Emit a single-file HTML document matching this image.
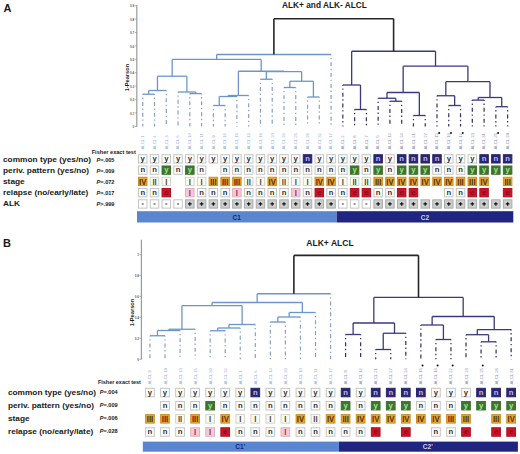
<!DOCTYPE html>
<html><head><meta charset="utf-8"><style>
html,body{margin:0;padding:0;background:#fff;}
svg{display:block;font-family:"Liberation Sans", sans-serif;}
</style></head><body>
<svg width="520" height="454" viewBox="0 0 520 454">
<rect width="520" height="454" fill="#fff"/>
<text x="3.50" y="12.30" font-size="11" font-weight="bold" font-style="normal" fill="#1a1a1a" text-anchor="start" >A</text>
<text x="282.00" y="7.50" font-size="8.3" font-weight="bold" font-style="normal" fill="#1a1a1a" text-anchor="start" >ALK+ and ALK- ALCL</text>
<line x1="136.8" y1="5" x2="136.8" y2="127" stroke="#9a9a9a" stroke-width="1.2"/>
<line x1="134.80" y1="5.70" x2="136.80" y2="5.70" stroke="#9a9a9a" stroke-width="0.8"/>
<text x="134.20" y="7.30" font-size="3.0" font-weight="bold" font-style="normal" fill="#555" text-anchor="end" >0.9</text>
<line x1="134.80" y1="19.10" x2="136.80" y2="19.10" stroke="#9a9a9a" stroke-width="0.8"/>
<text x="134.20" y="20.70" font-size="3.0" font-weight="bold" font-style="normal" fill="#555" text-anchor="end" >0.8</text>
<line x1="134.80" y1="32.50" x2="136.80" y2="32.50" stroke="#9a9a9a" stroke-width="0.8"/>
<text x="134.20" y="34.10" font-size="3.0" font-weight="bold" font-style="normal" fill="#555" text-anchor="end" >0.7</text>
<line x1="134.80" y1="45.90" x2="136.80" y2="45.90" stroke="#9a9a9a" stroke-width="0.8"/>
<text x="134.20" y="47.50" font-size="3.0" font-weight="bold" font-style="normal" fill="#555" text-anchor="end" >0.6</text>
<line x1="134.80" y1="59.30" x2="136.80" y2="59.30" stroke="#9a9a9a" stroke-width="0.8"/>
<text x="134.20" y="60.90" font-size="3.0" font-weight="bold" font-style="normal" fill="#555" text-anchor="end" >0.5</text>
<line x1="134.80" y1="72.70" x2="136.80" y2="72.70" stroke="#9a9a9a" stroke-width="0.8"/>
<text x="134.20" y="74.30" font-size="3.0" font-weight="bold" font-style="normal" fill="#555" text-anchor="end" >0.4</text>
<line x1="134.80" y1="86.10" x2="136.80" y2="86.10" stroke="#9a9a9a" stroke-width="0.8"/>
<text x="134.20" y="87.70" font-size="3.0" font-weight="bold" font-style="normal" fill="#555" text-anchor="end" >0.3</text>
<line x1="134.80" y1="99.50" x2="136.80" y2="99.50" stroke="#9a9a9a" stroke-width="0.8"/>
<text x="134.20" y="101.10" font-size="3.0" font-weight="bold" font-style="normal" fill="#555" text-anchor="end" >0.2</text>
<line x1="134.80" y1="112.90" x2="136.80" y2="112.90" stroke="#9a9a9a" stroke-width="0.8"/>
<text x="134.20" y="114.50" font-size="3.0" font-weight="bold" font-style="normal" fill="#555" text-anchor="end" >0.1</text>
<line x1="134.80" y1="126.30" x2="136.80" y2="126.30" stroke="#9a9a9a" stroke-width="0.8"/>
<text x="134.20" y="127.90" font-size="3.0" font-weight="bold" font-style="normal" fill="#555" text-anchor="end" >0</text>
<text x="0.00" y="0.00" font-size="5.7" font-weight="bold" font-style="normal" fill="#1a1a1a" text-anchor="middle" transform="translate(129.3,77.6) rotate(-90)">1-Pearson</text>
<line x1="142.75" y1="94.20" x2="154.52" y2="94.20" stroke="#6a96cd" stroke-width="1.3"/>
<line x1="148.63" y1="90.50" x2="166.29" y2="90.50" stroke="#6a96cd" stroke-width="1.3"/>
<line x1="148.63" y1="90.50" x2="148.63" y2="94.20" stroke="#6a96cd" stroke-width="1.3"/>
<line x1="189.83" y1="93.60" x2="201.60" y2="93.60" stroke="#6a96cd" stroke-width="1.3"/>
<line x1="178.06" y1="92.00" x2="195.71" y2="92.00" stroke="#6a96cd" stroke-width="1.3"/>
<line x1="195.71" y1="92.00" x2="195.71" y2="93.60" stroke="#6a96cd" stroke-width="1.3"/>
<line x1="157.46" y1="76.20" x2="186.89" y2="76.20" stroke="#6a96cd" stroke-width="1.3"/>
<line x1="157.46" y1="76.20" x2="157.46" y2="90.50" stroke="#6a96cd" stroke-width="1.3"/>
<line x1="186.89" y1="76.20" x2="186.89" y2="92.00" stroke="#6a96cd" stroke-width="1.3"/>
<line x1="213.37" y1="105.50" x2="225.14" y2="105.50" stroke="#6a96cd" stroke-width="1.3"/>
<line x1="219.25" y1="96.50" x2="236.91" y2="96.50" stroke="#6a96cd" stroke-width="1.3"/>
<line x1="219.25" y1="96.50" x2="219.25" y2="105.50" stroke="#6a96cd" stroke-width="1.3"/>
<line x1="228.08" y1="95.50" x2="248.68" y2="95.50" stroke="#6a96cd" stroke-width="1.3"/>
<line x1="228.08" y1="95.50" x2="228.08" y2="96.50" stroke="#6a96cd" stroke-width="1.3"/>
<line x1="260.45" y1="79.25" x2="272.22" y2="79.25" stroke="#6a96cd" stroke-width="1.3"/>
<line x1="283.99" y1="87.50" x2="295.76" y2="87.50" stroke="#6a96cd" stroke-width="1.3"/>
<line x1="307.53" y1="97.00" x2="319.30" y2="97.00" stroke="#6a96cd" stroke-width="1.3"/>
<line x1="289.88" y1="81.25" x2="313.41" y2="81.25" stroke="#6a96cd" stroke-width="1.3"/>
<line x1="289.88" y1="81.25" x2="289.88" y2="87.50" stroke="#6a96cd" stroke-width="1.3"/>
<line x1="313.41" y1="81.25" x2="313.41" y2="97.00" stroke="#6a96cd" stroke-width="1.3"/>
<line x1="266.34" y1="71.60" x2="301.64" y2="71.60" stroke="#6a96cd" stroke-width="1.3"/>
<line x1="266.34" y1="71.60" x2="266.34" y2="79.25" stroke="#6a96cd" stroke-width="1.3"/>
<line x1="301.64" y1="71.60" x2="301.64" y2="81.25" stroke="#6a96cd" stroke-width="1.3"/>
<line x1="238.38" y1="71.25" x2="283.99" y2="71.25" stroke="#6a96cd" stroke-width="1.3"/>
<line x1="238.38" y1="71.25" x2="238.38" y2="95.50" stroke="#6a96cd" stroke-width="1.3"/>
<line x1="283.99" y1="71.25" x2="283.99" y2="71.60" stroke="#6a96cd" stroke-width="1.3"/>
<line x1="172.17" y1="59.40" x2="261.19" y2="59.40" stroke="#6a96cd" stroke-width="1.3"/>
<line x1="172.17" y1="59.40" x2="172.17" y2="76.20" stroke="#6a96cd" stroke-width="1.3"/>
<line x1="261.19" y1="59.40" x2="261.19" y2="71.25" stroke="#6a96cd" stroke-width="1.3"/>
<line x1="216.68" y1="54.50" x2="331.07" y2="54.50" stroke="#6a96cd" stroke-width="1.3"/>
<line x1="216.68" y1="54.50" x2="216.68" y2="59.40" stroke="#6a96cd" stroke-width="1.3"/>
<line x1="354.61" y1="109.50" x2="366.38" y2="109.50" stroke="#3a397e" stroke-width="1.3"/>
<line x1="342.84" y1="85.00" x2="360.50" y2="85.00" stroke="#3a397e" stroke-width="1.3"/>
<line x1="360.50" y1="85.00" x2="360.50" y2="109.50" stroke="#3a397e" stroke-width="1.3"/>
<line x1="389.92" y1="101.25" x2="401.69" y2="101.25" stroke="#3a397e" stroke-width="1.3"/>
<line x1="378.15" y1="98.25" x2="395.80" y2="98.25" stroke="#3a397e" stroke-width="1.3"/>
<line x1="395.80" y1="98.25" x2="395.80" y2="101.25" stroke="#3a397e" stroke-width="1.3"/>
<line x1="413.46" y1="115.50" x2="425.23" y2="115.50" stroke="#3a397e" stroke-width="1.3"/>
<line x1="386.98" y1="92.50" x2="419.35" y2="92.50" stroke="#3a397e" stroke-width="1.3"/>
<line x1="386.98" y1="92.50" x2="386.98" y2="98.25" stroke="#3a397e" stroke-width="1.3"/>
<line x1="419.35" y1="92.50" x2="419.35" y2="115.50" stroke="#3a397e" stroke-width="1.3"/>
<line x1="448.77" y1="105.50" x2="460.54" y2="105.50" stroke="#3a397e" stroke-width="1.3"/>
<line x1="437.00" y1="95.75" x2="454.65" y2="95.75" stroke="#3a397e" stroke-width="1.3"/>
<line x1="454.65" y1="95.75" x2="454.65" y2="105.50" stroke="#3a397e" stroke-width="1.3"/>
<line x1="472.31" y1="100.10" x2="484.08" y2="100.10" stroke="#3a397e" stroke-width="1.3"/>
<line x1="495.85" y1="106.70" x2="507.62" y2="106.70" stroke="#3a397e" stroke-width="1.3"/>
<line x1="478.19" y1="97.50" x2="501.74" y2="97.50" stroke="#3a397e" stroke-width="1.3"/>
<line x1="478.19" y1="97.50" x2="478.19" y2="100.10" stroke="#3a397e" stroke-width="1.3"/>
<line x1="501.74" y1="97.50" x2="501.74" y2="106.70" stroke="#3a397e" stroke-width="1.3"/>
<line x1="445.83" y1="81.70" x2="489.97" y2="81.70" stroke="#3a397e" stroke-width="1.3"/>
<line x1="445.83" y1="81.70" x2="445.83" y2="95.75" stroke="#3a397e" stroke-width="1.3"/>
<line x1="489.97" y1="81.70" x2="489.97" y2="97.50" stroke="#3a397e" stroke-width="1.3"/>
<line x1="403.16" y1="66.20" x2="467.90" y2="66.20" stroke="#3a397e" stroke-width="1.3"/>
<line x1="403.16" y1="66.20" x2="403.16" y2="92.50" stroke="#3a397e" stroke-width="1.3"/>
<line x1="467.90" y1="66.20" x2="467.90" y2="81.70" stroke="#3a397e" stroke-width="1.3"/>
<line x1="351.67" y1="51.25" x2="435.53" y2="51.25" stroke="#3a397e" stroke-width="1.3"/>
<line x1="351.67" y1="51.25" x2="351.67" y2="85.00" stroke="#3a397e" stroke-width="1.3"/>
<line x1="435.53" y1="51.25" x2="435.53" y2="66.20" stroke="#3a397e" stroke-width="1.3"/>
<line x1="273.88" y1="18.70" x2="393.60" y2="18.70" stroke="#262626" stroke-width="1.6"/>
<line x1="273.88" y1="18.70" x2="273.88" y2="54.50" stroke="#262626" stroke-width="1.6"/>
<line x1="393.60" y1="18.70" x2="393.60" y2="51.25" stroke="#262626" stroke-width="1.6"/>
<line x1="142.75" y1="94.20" x2="142.75" y2="126.50" stroke="#869fca" stroke-width="1.2" stroke-dasharray="4,2.6,1.4,2.9" stroke-dashoffset="3.2"/>
<line x1="154.52" y1="94.20" x2="154.52" y2="126.50" stroke="#869fca" stroke-width="1.2" stroke-dasharray="4,2.6,1.4,2.9" stroke-dashoffset="3.2"/>
<line x1="166.29" y1="90.50" x2="166.29" y2="126.50" stroke="#869fca" stroke-width="1.2" stroke-dasharray="4,2.6,1.4,2.9" stroke-dashoffset="3.2"/>
<line x1="178.06" y1="92.00" x2="178.06" y2="126.50" stroke="#869fca" stroke-width="1.2" stroke-dasharray="4,2.6,1.4,2.9" stroke-dashoffset="3.2"/>
<line x1="189.83" y1="93.60" x2="189.83" y2="126.50" stroke="#869fca" stroke-width="1.2" stroke-dasharray="4,2.6,1.4,2.9" stroke-dashoffset="3.2"/>
<line x1="201.60" y1="93.60" x2="201.60" y2="126.50" stroke="#869fca" stroke-width="1.2" stroke-dasharray="4,2.6,1.4,2.9" stroke-dashoffset="3.2"/>
<line x1="213.37" y1="105.50" x2="213.37" y2="126.50" stroke="#869fca" stroke-width="1.2" stroke-dasharray="4,2.6,1.4,2.9" stroke-dashoffset="3.2"/>
<line x1="225.14" y1="105.50" x2="225.14" y2="126.50" stroke="#869fca" stroke-width="1.2" stroke-dasharray="4,2.6,1.4,2.9" stroke-dashoffset="3.2"/>
<line x1="236.91" y1="96.50" x2="236.91" y2="126.50" stroke="#869fca" stroke-width="1.2" stroke-dasharray="4,2.6,1.4,2.9" stroke-dashoffset="3.2"/>
<line x1="248.68" y1="95.50" x2="248.68" y2="126.50" stroke="#869fca" stroke-width="1.2" stroke-dasharray="4,2.6,1.4,2.9" stroke-dashoffset="3.2"/>
<line x1="260.45" y1="79.25" x2="260.45" y2="126.50" stroke="#869fca" stroke-width="1.2" stroke-dasharray="4,2.6,1.4,2.9" stroke-dashoffset="3.2"/>
<line x1="272.22" y1="79.25" x2="272.22" y2="126.50" stroke="#869fca" stroke-width="1.2" stroke-dasharray="4,2.6,1.4,2.9" stroke-dashoffset="3.2"/>
<line x1="283.99" y1="87.50" x2="283.99" y2="126.50" stroke="#869fca" stroke-width="1.2" stroke-dasharray="4,2.6,1.4,2.9" stroke-dashoffset="3.2"/>
<line x1="295.76" y1="87.50" x2="295.76" y2="126.50" stroke="#869fca" stroke-width="1.2" stroke-dasharray="4,2.6,1.4,2.9" stroke-dashoffset="3.2"/>
<line x1="307.53" y1="97.00" x2="307.53" y2="126.50" stroke="#869fca" stroke-width="1.2" stroke-dasharray="4,2.6,1.4,2.9" stroke-dashoffset="3.2"/>
<line x1="319.30" y1="97.00" x2="319.30" y2="126.50" stroke="#869fca" stroke-width="1.2" stroke-dasharray="4,2.6,1.4,2.9" stroke-dashoffset="3.2"/>
<line x1="331.07" y1="54.50" x2="331.07" y2="126.50" stroke="#869fca" stroke-width="1.2" stroke-dasharray="4,2.6,1.4,2.9" stroke-dashoffset="3.2"/>
<line x1="342.84" y1="85.00" x2="342.84" y2="126.50" stroke="#2f2f66" stroke-width="1.2" stroke-dasharray="4,2.6,1.4,2.9" stroke-dashoffset="3.2"/>
<line x1="354.61" y1="109.50" x2="354.61" y2="126.50" stroke="#2f2f66" stroke-width="1.2" stroke-dasharray="4,2.6,1.4,2.9" stroke-dashoffset="3.2"/>
<line x1="366.38" y1="109.50" x2="366.38" y2="126.50" stroke="#2f2f66" stroke-width="1.2" stroke-dasharray="4,2.6,1.4,2.9" stroke-dashoffset="3.2"/>
<line x1="378.15" y1="98.25" x2="378.15" y2="126.50" stroke="#2f2f66" stroke-width="1.2" stroke-dasharray="4,2.6,1.4,2.9" stroke-dashoffset="3.2"/>
<line x1="389.92" y1="101.25" x2="389.92" y2="126.50" stroke="#2f2f66" stroke-width="1.2" stroke-dasharray="4,2.6,1.4,2.9" stroke-dashoffset="3.2"/>
<line x1="401.69" y1="101.25" x2="401.69" y2="126.50" stroke="#2f2f66" stroke-width="1.2" stroke-dasharray="4,2.6,1.4,2.9" stroke-dashoffset="3.2"/>
<line x1="413.46" y1="115.50" x2="413.46" y2="126.50" stroke="#2f2f66" stroke-width="1.2" stroke-dasharray="4,2.6,1.4,2.9" stroke-dashoffset="3.2"/>
<line x1="425.23" y1="115.50" x2="425.23" y2="126.50" stroke="#2f2f66" stroke-width="1.2" stroke-dasharray="4,2.6,1.4,2.9" stroke-dashoffset="3.2"/>
<line x1="437.00" y1="95.75" x2="437.00" y2="126.50" stroke="#2f2f66" stroke-width="1.2" stroke-dasharray="4,2.6,1.4,2.9" stroke-dashoffset="3.2"/>
<line x1="448.77" y1="105.50" x2="448.77" y2="126.50" stroke="#2f2f66" stroke-width="1.2" stroke-dasharray="4,2.6,1.4,2.9" stroke-dashoffset="3.2"/>
<line x1="460.54" y1="105.50" x2="460.54" y2="126.50" stroke="#2f2f66" stroke-width="1.2" stroke-dasharray="4,2.6,1.4,2.9" stroke-dashoffset="3.2"/>
<line x1="472.31" y1="100.10" x2="472.31" y2="126.50" stroke="#2f2f66" stroke-width="1.2" stroke-dasharray="4,2.6,1.4,2.9" stroke-dashoffset="3.2"/>
<line x1="484.08" y1="100.10" x2="484.08" y2="126.50" stroke="#2f2f66" stroke-width="1.2" stroke-dasharray="4,2.6,1.4,2.9" stroke-dashoffset="3.2"/>
<line x1="495.85" y1="106.70" x2="495.85" y2="126.50" stroke="#2f2f66" stroke-width="1.2" stroke-dasharray="4,2.6,1.4,2.9" stroke-dashoffset="3.2"/>
<line x1="507.62" y1="106.70" x2="507.62" y2="126.50" stroke="#2f2f66" stroke-width="1.2" stroke-dasharray="4,2.6,1.4,2.9" stroke-dashoffset="3.2"/>
<circle cx="439.20" cy="133" r="1" fill="#111"/>
<circle cx="450.97" cy="133" r="1" fill="#111"/>
<circle cx="462.74" cy="133" r="1" fill="#111"/>
<circle cx="498.05" cy="133" r="1" fill="#111"/>
<text transform="translate(144.05,149.6) rotate(-90)" font-size="4.3" fill="#8fb0dd">ALCL 1</text>
<text transform="translate(155.82,149.6) rotate(-90)" font-size="4.3" fill="#8fb0dd">ALCL 4</text>
<text transform="translate(167.59,149.6) rotate(-90)" font-size="4.3" fill="#8fb0dd">ALCL 3</text>
<text transform="translate(179.36,149.6) rotate(-90)" font-size="4.3" fill="#8fb0dd">ALCL 6</text>
<text transform="translate(191.13,149.6) rotate(-90)" font-size="4.3" fill="#8fb0dd">ALCL 10</text>
<text transform="translate(202.90,149.6) rotate(-90)" font-size="4.3" fill="#8fb0dd">ALCL 11</text>
<text transform="translate(214.67,149.6) rotate(-90)" font-size="4.3" fill="#8fb0dd">ALCL 9</text>
<text transform="translate(226.44,149.6) rotate(-90)" font-size="4.3" fill="#8fb0dd">ALCL 16</text>
<text transform="translate(238.21,149.6) rotate(-90)" font-size="4.3" fill="#8fb0dd">ALCL 15</text>
<text transform="translate(249.98,149.6) rotate(-90)" font-size="4.3" fill="#8fb0dd">ALCL 13</text>
<text transform="translate(261.75,149.6) rotate(-90)" font-size="4.3" fill="#8fb0dd">ALCL 18</text>
<text transform="translate(273.52,149.6) rotate(-90)" font-size="4.3" fill="#8fb0dd">ALCL 20</text>
<text transform="translate(285.29,149.6) rotate(-90)" font-size="4.3" fill="#8fb0dd">ALCL 26</text>
<text transform="translate(297.06,149.6) rotate(-90)" font-size="4.3" fill="#8fb0dd">ALCL 25</text>
<text transform="translate(308.83,149.6) rotate(-90)" font-size="4.3" fill="#8fb0dd">ALCL 28</text>
<text transform="translate(320.60,149.6) rotate(-90)" font-size="4.3" fill="#8fb0dd">ALCL 32</text>
<text transform="translate(332.37,149.6) rotate(-90)" font-size="4.3" fill="#8fb0dd">ALCL 17</text>
<text transform="translate(344.14,149.6) rotate(-90)" font-size="4.3" fill="#8a8ab8">ALCL 2</text>
<text transform="translate(355.91,149.6) rotate(-90)" font-size="4.3" fill="#8a8ab8">ALCL 8</text>
<text transform="translate(367.68,149.6) rotate(-90)" font-size="4.3" fill="#8a8ab8">ALCL 7</text>
<text transform="translate(379.45,149.6) rotate(-90)" font-size="4.3" fill="#8a8ab8">ALCL 5</text>
<text transform="translate(391.22,149.6) rotate(-90)" font-size="4.3" fill="#8a8ab8">ALCL 12</text>
<text transform="translate(402.99,149.6) rotate(-90)" font-size="4.3" fill="#8a8ab8">ALCL 24</text>
<text transform="translate(414.76,149.6) rotate(-90)" font-size="4.3" fill="#8a8ab8">ALCL 21</text>
<text transform="translate(426.53,149.6) rotate(-90)" font-size="4.3" fill="#8a8ab8">ALCL 27</text>
<text transform="translate(438.30,149.6) rotate(-90)" font-size="4.3" fill="#8a8ab8">ALCL 15</text>
<text transform="translate(450.07,149.6) rotate(-90)" font-size="4.3" fill="#8a8ab8">ALCL 16</text>
<text transform="translate(461.84,149.6) rotate(-90)" font-size="4.3" fill="#8a8ab8">ALCL 12</text>
<text transform="translate(473.61,149.6) rotate(-90)" font-size="4.3" fill="#8a8ab8">ALCL 23</text>
<text transform="translate(485.38,149.6) rotate(-90)" font-size="4.3" fill="#8a8ab8">ALCL 31</text>
<text transform="translate(497.15,149.6) rotate(-90)" font-size="4.3" fill="#8a8ab8">ALCL 25</text>
<text transform="translate(508.92,149.6) rotate(-90)" font-size="4.3" fill="#8a8ab8">ALCL 29</text>
<rect x="138.50" y="154.70" width="8.50" height="8.30" fill="#ffffff" stroke="#c4c4c4" stroke-width="1"/>
<text x="142.75" y="161.02" font-size="7.7" font-weight="bold" fill="#303030" text-anchor="middle">y</text>
<rect x="150.27" y="154.70" width="8.50" height="8.30" fill="#ffffff" stroke="#c4c4c4" stroke-width="1"/>
<text x="154.52" y="161.02" font-size="7.7" font-weight="bold" fill="#303030" text-anchor="middle">y</text>
<rect x="162.04" y="154.70" width="8.50" height="8.30" fill="#ffffff" stroke="#c4c4c4" stroke-width="1"/>
<text x="166.29" y="161.02" font-size="7.7" font-weight="bold" fill="#303030" text-anchor="middle">y</text>
<rect x="173.81" y="154.70" width="8.50" height="8.30" fill="#ffffff" stroke="#c4c4c4" stroke-width="1"/>
<text x="178.06" y="161.02" font-size="7.7" font-weight="bold" fill="#303030" text-anchor="middle">y</text>
<rect x="185.58" y="154.70" width="8.50" height="8.30" fill="#ffffff" stroke="#c4c4c4" stroke-width="1"/>
<text x="189.83" y="161.02" font-size="7.7" font-weight="bold" fill="#303030" text-anchor="middle">y</text>
<rect x="197.35" y="154.70" width="8.50" height="8.30" fill="#ffffff" stroke="#c4c4c4" stroke-width="1"/>
<text x="201.60" y="161.02" font-size="7.7" font-weight="bold" fill="#303030" text-anchor="middle">y</text>
<rect x="209.12" y="154.70" width="8.50" height="8.30" fill="#ffffff" stroke="#c4c4c4" stroke-width="1"/>
<text x="213.37" y="161.02" font-size="7.7" font-weight="bold" fill="#303030" text-anchor="middle">y</text>
<rect x="220.89" y="154.70" width="8.50" height="8.30" fill="#ffffff" stroke="#c4c4c4" stroke-width="1"/>
<text x="225.14" y="161.02" font-size="7.7" font-weight="bold" fill="#303030" text-anchor="middle">y</text>
<rect x="232.66" y="154.70" width="8.50" height="8.30" fill="#ffffff" stroke="#c4c4c4" stroke-width="1"/>
<text x="236.91" y="161.02" font-size="7.7" font-weight="bold" fill="#303030" text-anchor="middle">y</text>
<rect x="244.43" y="154.70" width="8.50" height="8.30" fill="#ffffff" stroke="#c4c4c4" stroke-width="1"/>
<text x="248.68" y="161.02" font-size="7.7" font-weight="bold" fill="#303030" text-anchor="middle">y</text>
<rect x="256.20" y="154.70" width="8.50" height="8.30" fill="#ffffff" stroke="#c4c4c4" stroke-width="1"/>
<text x="260.45" y="161.02" font-size="7.7" font-weight="bold" fill="#303030" text-anchor="middle">y</text>
<rect x="267.97" y="154.70" width="8.50" height="8.30" fill="#ffffff" stroke="#c4c4c4" stroke-width="1"/>
<text x="272.22" y="161.02" font-size="7.7" font-weight="bold" fill="#303030" text-anchor="middle">y</text>
<rect x="279.74" y="154.70" width="8.50" height="8.30" fill="#ffffff" stroke="#c4c4c4" stroke-width="1"/>
<text x="283.99" y="161.02" font-size="7.7" font-weight="bold" fill="#303030" text-anchor="middle">y</text>
<rect x="291.51" y="154.70" width="8.50" height="8.30" fill="#ffffff" stroke="#c4c4c4" stroke-width="1"/>
<text x="295.76" y="161.02" font-size="7.7" font-weight="bold" fill="#303030" text-anchor="middle">y</text>
<rect x="303.28" y="154.70" width="8.50" height="8.30" fill="#2b266c" stroke="#2b266c" stroke-width="1"/>
<text x="307.53" y="161.02" font-size="7.7" font-weight="bold" fill="#c0b8f0" text-anchor="middle">n</text>
<rect x="315.05" y="154.70" width="8.50" height="8.30" fill="#ffffff" stroke="#c4c4c4" stroke-width="1"/>
<text x="319.30" y="161.02" font-size="7.7" font-weight="bold" fill="#303030" text-anchor="middle">y</text>
<rect x="326.82" y="154.70" width="8.50" height="8.30" fill="#ffffff" stroke="#c4c4c4" stroke-width="1"/>
<text x="331.07" y="161.02" font-size="7.7" font-weight="bold" fill="#303030" text-anchor="middle">y</text>
<rect x="338.59" y="154.70" width="8.50" height="8.30" fill="#ffffff" stroke="#c4c4c4" stroke-width="1"/>
<text x="342.84" y="161.02" font-size="7.7" font-weight="bold" fill="#303030" text-anchor="middle">y</text>
<rect x="350.36" y="154.70" width="8.50" height="8.30" fill="#ffffff" stroke="#c4c4c4" stroke-width="1"/>
<text x="354.61" y="161.02" font-size="7.7" font-weight="bold" fill="#303030" text-anchor="middle">y</text>
<rect x="362.13" y="154.70" width="8.50" height="8.30" fill="#ffffff" stroke="#c4c4c4" stroke-width="1"/>
<text x="366.38" y="161.02" font-size="7.7" font-weight="bold" fill="#303030" text-anchor="middle">y</text>
<rect x="373.90" y="154.70" width="8.50" height="8.30" fill="#2b266c" stroke="#2b266c" stroke-width="1"/>
<text x="378.15" y="161.02" font-size="7.7" font-weight="bold" fill="#c0b8f0" text-anchor="middle">n</text>
<rect x="385.67" y="154.70" width="8.50" height="8.30" fill="#ffffff" stroke="#c4c4c4" stroke-width="1"/>
<text x="389.92" y="161.02" font-size="7.7" font-weight="bold" fill="#303030" text-anchor="middle">y</text>
<rect x="397.44" y="154.70" width="8.50" height="8.30" fill="#2b266c" stroke="#2b266c" stroke-width="1"/>
<text x="401.69" y="161.02" font-size="7.7" font-weight="bold" fill="#c0b8f0" text-anchor="middle">n</text>
<rect x="409.21" y="154.70" width="8.50" height="8.30" fill="#2b266c" stroke="#2b266c" stroke-width="1"/>
<text x="413.46" y="161.02" font-size="7.7" font-weight="bold" fill="#c0b8f0" text-anchor="middle">n</text>
<rect x="420.98" y="154.70" width="8.50" height="8.30" fill="#2b266c" stroke="#2b266c" stroke-width="1"/>
<text x="425.23" y="161.02" font-size="7.7" font-weight="bold" fill="#c0b8f0" text-anchor="middle">n</text>
<rect x="432.75" y="154.70" width="8.50" height="8.30" fill="#2b266c" stroke="#2b266c" stroke-width="1"/>
<text x="437.00" y="161.02" font-size="7.7" font-weight="bold" fill="#c0b8f0" text-anchor="middle">n</text>
<rect x="444.52" y="154.70" width="8.50" height="8.30" fill="#ffffff" stroke="#c4c4c4" stroke-width="1"/>
<text x="448.77" y="161.02" font-size="7.7" font-weight="bold" fill="#303030" text-anchor="middle">y</text>
<rect x="456.29" y="154.70" width="8.50" height="8.30" fill="#ffffff" stroke="#c4c4c4" stroke-width="1"/>
<text x="460.54" y="161.02" font-size="7.7" font-weight="bold" fill="#303030" text-anchor="middle">y</text>
<rect x="468.06" y="154.70" width="8.50" height="8.30" fill="#ffffff" stroke="#c4c4c4" stroke-width="1"/>
<text x="472.31" y="161.02" font-size="7.7" font-weight="bold" fill="#303030" text-anchor="middle">y</text>
<rect x="479.83" y="154.70" width="8.50" height="8.30" fill="#2b266c" stroke="#2b266c" stroke-width="1"/>
<text x="484.08" y="161.02" font-size="7.7" font-weight="bold" fill="#c0b8f0" text-anchor="middle">n</text>
<rect x="491.60" y="154.70" width="8.50" height="8.30" fill="#2b266c" stroke="#2b266c" stroke-width="1"/>
<text x="495.85" y="161.02" font-size="7.7" font-weight="bold" fill="#c0b8f0" text-anchor="middle">n</text>
<rect x="503.37" y="154.70" width="8.50" height="8.30" fill="#2b266c" stroke="#2b266c" stroke-width="1"/>
<text x="507.62" y="161.02" font-size="7.7" font-weight="bold" fill="#c0b8f0" text-anchor="middle">n</text>
<rect x="138.50" y="165.98" width="8.50" height="8.30" fill="#ffffff" stroke="#c4c4c4" stroke-width="1"/>
<text x="142.75" y="172.30" font-size="7.7" font-weight="bold" fill="#303030" text-anchor="middle">n</text>
<rect x="150.27" y="165.98" width="8.50" height="8.30" fill="#ffffff" stroke="#c4c4c4" stroke-width="1"/>
<text x="154.52" y="172.30" font-size="7.7" font-weight="bold" fill="#303030" text-anchor="middle">n</text>
<rect x="162.04" y="165.98" width="8.50" height="8.30" fill="#3c7430" stroke="#3c7430" stroke-width="1"/>
<text x="166.29" y="172.30" font-size="7.7" font-weight="bold" fill="#b0e08e" text-anchor="middle">y</text>
<rect x="173.81" y="165.98" width="8.50" height="8.30" fill="#ffffff" stroke="#c4c4c4" stroke-width="1"/>
<text x="178.06" y="172.30" font-size="7.7" font-weight="bold" fill="#303030" text-anchor="middle">n</text>
<rect x="185.58" y="165.98" width="8.50" height="8.30" fill="#3c7430" stroke="#3c7430" stroke-width="1"/>
<text x="189.83" y="172.30" font-size="7.7" font-weight="bold" fill="#b0e08e" text-anchor="middle">y</text>
<rect x="197.35" y="165.98" width="8.50" height="8.30" fill="#ffffff" stroke="#c4c4c4" stroke-width="1"/>
<text x="201.60" y="172.30" font-size="7.7" font-weight="bold" fill="#303030" text-anchor="middle">n</text>
<rect x="220.89" y="165.98" width="8.50" height="8.30" fill="#ffffff" stroke="#c4c4c4" stroke-width="1"/>
<text x="225.14" y="172.30" font-size="7.7" font-weight="bold" fill="#303030" text-anchor="middle">n</text>
<rect x="232.66" y="165.98" width="8.50" height="8.30" fill="#ffffff" stroke="#c4c4c4" stroke-width="1"/>
<text x="236.91" y="172.30" font-size="7.7" font-weight="bold" fill="#303030" text-anchor="middle">n</text>
<rect x="244.43" y="165.98" width="8.50" height="8.30" fill="#ffffff" stroke="#c4c4c4" stroke-width="1"/>
<text x="248.68" y="172.30" font-size="7.7" font-weight="bold" fill="#303030" text-anchor="middle">n</text>
<rect x="256.20" y="165.98" width="8.50" height="8.30" fill="#ffffff" stroke="#c4c4c4" stroke-width="1"/>
<text x="260.45" y="172.30" font-size="7.7" font-weight="bold" fill="#303030" text-anchor="middle">n</text>
<rect x="267.97" y="165.98" width="8.50" height="8.30" fill="#ffffff" stroke="#c4c4c4" stroke-width="1"/>
<text x="272.22" y="172.30" font-size="7.7" font-weight="bold" fill="#303030" text-anchor="middle">n</text>
<rect x="279.74" y="165.98" width="8.50" height="8.30" fill="#ffffff" stroke="#c4c4c4" stroke-width="1"/>
<text x="283.99" y="172.30" font-size="7.7" font-weight="bold" fill="#303030" text-anchor="middle">n</text>
<rect x="291.51" y="165.98" width="8.50" height="8.30" fill="#ffffff" stroke="#c4c4c4" stroke-width="1"/>
<text x="295.76" y="172.30" font-size="7.7" font-weight="bold" fill="#303030" text-anchor="middle">n</text>
<rect x="303.28" y="165.98" width="8.50" height="8.30" fill="#ffffff" stroke="#c4c4c4" stroke-width="1"/>
<text x="307.53" y="172.30" font-size="7.7" font-weight="bold" fill="#303030" text-anchor="middle">n</text>
<rect x="315.05" y="165.98" width="8.50" height="8.30" fill="#ffffff" stroke="#c4c4c4" stroke-width="1"/>
<text x="319.30" y="172.30" font-size="7.7" font-weight="bold" fill="#303030" text-anchor="middle">n</text>
<rect x="326.82" y="165.98" width="8.50" height="8.30" fill="#ffffff" stroke="#c4c4c4" stroke-width="1"/>
<text x="331.07" y="172.30" font-size="7.7" font-weight="bold" fill="#303030" text-anchor="middle">n</text>
<rect x="338.59" y="165.98" width="8.50" height="8.30" fill="#ffffff" stroke="#c4c4c4" stroke-width="1"/>
<text x="342.84" y="172.30" font-size="7.7" font-weight="bold" fill="#303030" text-anchor="middle">n</text>
<rect x="350.36" y="165.98" width="8.50" height="8.30" fill="#3c7430" stroke="#3c7430" stroke-width="1"/>
<text x="354.61" y="172.30" font-size="7.7" font-weight="bold" fill="#b0e08e" text-anchor="middle">y</text>
<rect x="362.13" y="165.98" width="8.50" height="8.30" fill="#ffffff" stroke="#c4c4c4" stroke-width="1"/>
<text x="366.38" y="172.30" font-size="7.7" font-weight="bold" fill="#303030" text-anchor="middle">n</text>
<rect x="373.90" y="165.98" width="8.50" height="8.30" fill="#3c7430" stroke="#3c7430" stroke-width="1"/>
<text x="378.15" y="172.30" font-size="7.7" font-weight="bold" fill="#b0e08e" text-anchor="middle">y</text>
<rect x="385.67" y="165.98" width="8.50" height="8.30" fill="#ffffff" stroke="#c4c4c4" stroke-width="1"/>
<text x="389.92" y="172.30" font-size="7.7" font-weight="bold" fill="#303030" text-anchor="middle">n</text>
<rect x="397.44" y="165.98" width="8.50" height="8.30" fill="#3c7430" stroke="#3c7430" stroke-width="1"/>
<text x="401.69" y="172.30" font-size="7.7" font-weight="bold" fill="#b0e08e" text-anchor="middle">y</text>
<rect x="409.21" y="165.98" width="8.50" height="8.30" fill="#3c7430" stroke="#3c7430" stroke-width="1"/>
<text x="413.46" y="172.30" font-size="7.7" font-weight="bold" fill="#b0e08e" text-anchor="middle">y</text>
<rect x="420.98" y="165.98" width="8.50" height="8.30" fill="#3c7430" stroke="#3c7430" stroke-width="1"/>
<text x="425.23" y="172.30" font-size="7.7" font-weight="bold" fill="#b0e08e" text-anchor="middle">y</text>
<rect x="432.75" y="165.98" width="8.50" height="8.30" fill="#ffffff" stroke="#c4c4c4" stroke-width="1"/>
<text x="437.00" y="172.30" font-size="7.7" font-weight="bold" fill="#303030" text-anchor="middle">n</text>
<rect x="444.52" y="165.98" width="8.50" height="8.30" fill="#ffffff" stroke="#c4c4c4" stroke-width="1"/>
<text x="448.77" y="172.30" font-size="7.7" font-weight="bold" fill="#303030" text-anchor="middle">n</text>
<rect x="456.29" y="165.98" width="8.50" height="8.30" fill="#ffffff" stroke="#c4c4c4" stroke-width="1"/>
<text x="460.54" y="172.30" font-size="7.7" font-weight="bold" fill="#303030" text-anchor="middle">n</text>
<rect x="468.06" y="165.98" width="8.50" height="8.30" fill="#3c7430" stroke="#3c7430" stroke-width="1"/>
<text x="472.31" y="172.30" font-size="7.7" font-weight="bold" fill="#b0e08e" text-anchor="middle">y</text>
<rect x="479.83" y="165.98" width="8.50" height="8.30" fill="#3c7430" stroke="#3c7430" stroke-width="1"/>
<text x="484.08" y="172.30" font-size="7.7" font-weight="bold" fill="#b0e08e" text-anchor="middle">y</text>
<rect x="491.60" y="165.98" width="8.50" height="8.30" fill="#3c7430" stroke="#3c7430" stroke-width="1"/>
<text x="495.85" y="172.30" font-size="7.7" font-weight="bold" fill="#b0e08e" text-anchor="middle">y</text>
<rect x="503.37" y="165.98" width="8.50" height="8.30" fill="#3c7430" stroke="#3c7430" stroke-width="1"/>
<text x="507.62" y="172.30" font-size="7.7" font-weight="bold" fill="#b0e08e" text-anchor="middle">y</text>
<rect x="138.50" y="177.26" width="8.50" height="8.30" fill="#e7a534" stroke="#d09020" stroke-width="1"/>
<text transform="translate(142.75,184.86) scale(0.8,1)" font-size="9.62" font-weight="bold" fill="#55300a" text-anchor="middle">IV</text>
<rect x="150.27" y="177.26" width="8.50" height="8.30" fill="#fcfcf2" stroke="#d2d2c4" stroke-width="1"/>
<text transform="translate(154.52,184.86) scale(0.8,1)" font-size="9.62" font-weight="bold" fill="#4a4a40" text-anchor="middle">II</text>
<rect x="162.04" y="177.26" width="8.50" height="8.30" fill="#fcfcf2" stroke="#d2d2c4" stroke-width="1"/>
<text transform="translate(166.29,184.86) scale(0.8,1)" font-size="9.62" font-weight="bold" fill="#4a4a40" text-anchor="middle">I</text>
<rect x="185.58" y="177.26" width="8.50" height="8.30" fill="#fcfcf2" stroke="#d2d2c4" stroke-width="1"/>
<text transform="translate(189.83,184.86) scale(0.8,1)" font-size="9.62" font-weight="bold" fill="#4a4a40" text-anchor="middle">I</text>
<rect x="197.35" y="177.26" width="8.50" height="8.30" fill="#fcfcf2" stroke="#d2d2c4" stroke-width="1"/>
<text transform="translate(201.60,184.86) scale(0.8,1)" font-size="9.62" font-weight="bold" fill="#4a4a40" text-anchor="middle">I</text>
<rect x="209.12" y="177.26" width="8.50" height="8.30" fill="#e7a534" stroke="#d09020" stroke-width="1"/>
<text transform="translate(213.37,184.86) scale(0.8,1)" font-size="9.62" font-weight="bold" fill="#55300a" text-anchor="middle">III</text>
<rect x="220.89" y="177.26" width="8.50" height="8.30" fill="#e7a534" stroke="#d09020" stroke-width="1"/>
<text transform="translate(225.14,184.86) scale(0.8,1)" font-size="9.62" font-weight="bold" fill="#55300a" text-anchor="middle">III</text>
<rect x="232.66" y="177.26" width="8.50" height="8.30" fill="#e7a534" stroke="#d09020" stroke-width="1"/>
<text transform="translate(236.91,184.86) scale(0.8,1)" font-size="9.62" font-weight="bold" fill="#55300a" text-anchor="middle">III</text>
<rect x="244.43" y="177.26" width="8.50" height="8.30" fill="#fcfcf2" stroke="#d2d2c4" stroke-width="1"/>
<text transform="translate(248.68,184.86) scale(0.8,1)" font-size="9.62" font-weight="bold" fill="#4a4a40" text-anchor="middle">II</text>
<rect x="256.20" y="177.26" width="8.50" height="8.30" fill="#fcfcf2" stroke="#d2d2c4" stroke-width="1"/>
<text transform="translate(260.45,184.86) scale(0.8,1)" font-size="9.62" font-weight="bold" fill="#4a4a40" text-anchor="middle">I</text>
<rect x="267.97" y="177.26" width="8.50" height="8.30" fill="#e7a534" stroke="#d09020" stroke-width="1"/>
<text transform="translate(272.22,184.86) scale(0.8,1)" font-size="9.62" font-weight="bold" fill="#55300a" text-anchor="middle">IV</text>
<rect x="279.74" y="177.26" width="8.50" height="8.30" fill="#fcfcf2" stroke="#d2d2c4" stroke-width="1"/>
<text transform="translate(283.99,184.86) scale(0.8,1)" font-size="9.62" font-weight="bold" fill="#4a4a40" text-anchor="middle">II</text>
<rect x="291.51" y="177.26" width="8.50" height="8.30" fill="#fcfcf2" stroke="#d2d2c4" stroke-width="1"/>
<text transform="translate(295.76,184.86) scale(0.8,1)" font-size="9.62" font-weight="bold" fill="#4a4a40" text-anchor="middle">I</text>
<rect x="303.28" y="177.26" width="8.50" height="8.30" fill="#fcfcf2" stroke="#d2d2c4" stroke-width="1"/>
<text transform="translate(307.53,184.86) scale(0.8,1)" font-size="9.62" font-weight="bold" fill="#4a4a40" text-anchor="middle">I</text>
<rect x="315.05" y="177.26" width="8.50" height="8.30" fill="#e7a534" stroke="#d09020" stroke-width="1"/>
<text transform="translate(319.30,184.86) scale(0.8,1)" font-size="9.62" font-weight="bold" fill="#55300a" text-anchor="middle">IV</text>
<rect x="326.82" y="177.26" width="8.50" height="8.30" fill="#e7a534" stroke="#d09020" stroke-width="1"/>
<text transform="translate(331.07,184.86) scale(0.8,1)" font-size="9.62" font-weight="bold" fill="#55300a" text-anchor="middle">IV</text>
<rect x="338.59" y="177.26" width="8.50" height="8.30" fill="#fcfcf2" stroke="#d2d2c4" stroke-width="1"/>
<text transform="translate(342.84,184.86) scale(0.8,1)" font-size="9.62" font-weight="bold" fill="#4a4a40" text-anchor="middle">I</text>
<rect x="350.36" y="177.26" width="8.50" height="8.30" fill="#fcfcf2" stroke="#d2d2c4" stroke-width="1"/>
<text transform="translate(354.61,184.86) scale(0.8,1)" font-size="9.62" font-weight="bold" fill="#4a4a40" text-anchor="middle">II</text>
<rect x="362.13" y="177.26" width="8.50" height="8.30" fill="#fcfcf2" stroke="#d2d2c4" stroke-width="1"/>
<text transform="translate(366.38,184.86) scale(0.8,1)" font-size="9.62" font-weight="bold" fill="#4a4a40" text-anchor="middle">II</text>
<rect x="373.90" y="177.26" width="8.50" height="8.30" fill="#e7a534" stroke="#d09020" stroke-width="1"/>
<text transform="translate(378.15,184.86) scale(0.8,1)" font-size="9.62" font-weight="bold" fill="#55300a" text-anchor="middle">III</text>
<rect x="385.67" y="177.26" width="8.50" height="8.30" fill="#e7a534" stroke="#d09020" stroke-width="1"/>
<text transform="translate(389.92,184.86) scale(0.8,1)" font-size="9.62" font-weight="bold" fill="#55300a" text-anchor="middle">IV</text>
<rect x="397.44" y="177.26" width="8.50" height="8.30" fill="#e7a534" stroke="#d09020" stroke-width="1"/>
<text transform="translate(401.69,184.86) scale(0.8,1)" font-size="9.62" font-weight="bold" fill="#55300a" text-anchor="middle">IV</text>
<rect x="409.21" y="177.26" width="8.50" height="8.30" fill="#e7a534" stroke="#d09020" stroke-width="1"/>
<text transform="translate(413.46,184.86) scale(0.8,1)" font-size="9.62" font-weight="bold" fill="#55300a" text-anchor="middle">IV</text>
<rect x="420.98" y="177.26" width="8.50" height="8.30" fill="#e7a534" stroke="#d09020" stroke-width="1"/>
<text transform="translate(425.23,184.86) scale(0.8,1)" font-size="9.62" font-weight="bold" fill="#55300a" text-anchor="middle">IV</text>
<rect x="432.75" y="177.26" width="8.50" height="8.30" fill="#e7a534" stroke="#d09020" stroke-width="1"/>
<text transform="translate(437.00,184.86) scale(0.8,1)" font-size="9.62" font-weight="bold" fill="#55300a" text-anchor="middle">IV</text>
<rect x="444.52" y="177.26" width="8.50" height="8.30" fill="#e7a534" stroke="#d09020" stroke-width="1"/>
<text transform="translate(448.77,184.86) scale(0.8,1)" font-size="9.62" font-weight="bold" fill="#55300a" text-anchor="middle">IV</text>
<rect x="456.29" y="177.26" width="8.50" height="8.30" fill="#e7a534" stroke="#d09020" stroke-width="1"/>
<text transform="translate(460.54,184.86) scale(0.8,1)" font-size="9.62" font-weight="bold" fill="#55300a" text-anchor="middle">III</text>
<rect x="468.06" y="177.26" width="8.50" height="8.30" fill="#e7a534" stroke="#d09020" stroke-width="1"/>
<text transform="translate(472.31,184.86) scale(0.8,1)" font-size="9.62" font-weight="bold" fill="#55300a" text-anchor="middle">III</text>
<rect x="479.83" y="177.26" width="8.50" height="8.30" fill="#e7a534" stroke="#d09020" stroke-width="1"/>
<text transform="translate(484.08,184.86) scale(0.8,1)" font-size="9.62" font-weight="bold" fill="#55300a" text-anchor="middle">IV</text>
<rect x="503.37" y="177.26" width="8.50" height="8.30" fill="#e7a534" stroke="#d09020" stroke-width="1"/>
<text transform="translate(507.62,184.86) scale(0.8,1)" font-size="9.62" font-weight="bold" fill="#55300a" text-anchor="middle">III</text>
<rect x="138.50" y="188.54" width="8.50" height="8.30" fill="#ffffff" stroke="#c4c4c4" stroke-width="1"/>
<text x="142.75" y="194.86" font-size="7.7" font-weight="bold" fill="#303030" text-anchor="middle">n</text>
<rect x="150.27" y="188.54" width="8.50" height="8.30" fill="#ffffff" stroke="#c4c4c4" stroke-width="1"/>
<text x="154.52" y="194.86" font-size="7.7" font-weight="bold" fill="#303030" text-anchor="middle">n</text>
<rect x="162.04" y="188.54" width="8.50" height="8.30" fill="#c8142a" stroke="#b01020" stroke-width="1"/>
<text x="166.29" y="194.86" font-size="7.7" font-weight="bold" fill="#8a0a18" text-anchor="middle">e</text>
<rect x="185.58" y="188.54" width="8.50" height="8.30" fill="#f6c9d8" stroke="#e0b0c0" stroke-width="1"/>
<text transform="translate(189.83,196.14) scale(0.8,1)" font-size="9.62" font-weight="bold" fill="#a03050" text-anchor="middle">I</text>
<rect x="197.35" y="188.54" width="8.50" height="8.30" fill="#ffffff" stroke="#c4c4c4" stroke-width="1"/>
<text x="201.60" y="194.86" font-size="7.7" font-weight="bold" fill="#303030" text-anchor="middle">n</text>
<rect x="209.12" y="188.54" width="8.50" height="8.30" fill="#ffffff" stroke="#c4c4c4" stroke-width="1"/>
<text x="213.37" y="194.86" font-size="7.7" font-weight="bold" fill="#303030" text-anchor="middle">n</text>
<rect x="220.89" y="188.54" width="8.50" height="8.30" fill="#ffffff" stroke="#c4c4c4" stroke-width="1"/>
<text x="225.14" y="194.86" font-size="7.7" font-weight="bold" fill="#303030" text-anchor="middle">n</text>
<rect x="232.66" y="188.54" width="8.50" height="8.30" fill="#f6c9d8" stroke="#e0b0c0" stroke-width="1"/>
<text transform="translate(236.91,196.14) scale(0.8,1)" font-size="9.62" font-weight="bold" fill="#a03050" text-anchor="middle">I</text>
<rect x="244.43" y="188.54" width="8.50" height="8.30" fill="#ffffff" stroke="#c4c4c4" stroke-width="1"/>
<text x="248.68" y="194.86" font-size="7.7" font-weight="bold" fill="#303030" text-anchor="middle">n</text>
<rect x="256.20" y="188.54" width="8.50" height="8.30" fill="#ffffff" stroke="#c4c4c4" stroke-width="1"/>
<text x="260.45" y="194.86" font-size="7.7" font-weight="bold" fill="#303030" text-anchor="middle">n</text>
<rect x="267.97" y="188.54" width="8.50" height="8.30" fill="#ffffff" stroke="#c4c4c4" stroke-width="1"/>
<text x="272.22" y="194.86" font-size="7.7" font-weight="bold" fill="#303030" text-anchor="middle">n</text>
<rect x="279.74" y="188.54" width="8.50" height="8.30" fill="#ffffff" stroke="#c4c4c4" stroke-width="1"/>
<text x="283.99" y="194.86" font-size="7.7" font-weight="bold" fill="#303030" text-anchor="middle">n</text>
<rect x="291.51" y="188.54" width="8.50" height="8.30" fill="#f6c9d8" stroke="#e0b0c0" stroke-width="1"/>
<text transform="translate(295.76,196.14) scale(0.8,1)" font-size="9.62" font-weight="bold" fill="#a03050" text-anchor="middle">I</text>
<rect x="303.28" y="188.54" width="8.50" height="8.30" fill="#ffffff" stroke="#c4c4c4" stroke-width="1"/>
<text x="307.53" y="194.86" font-size="7.7" font-weight="bold" fill="#303030" text-anchor="middle">n</text>
<rect x="315.05" y="188.54" width="8.50" height="8.30" fill="#c8142a" stroke="#b01020" stroke-width="1"/>
<text x="319.30" y="194.86" font-size="7.7" font-weight="bold" fill="#8a0a18" text-anchor="middle">e</text>
<rect x="326.82" y="188.54" width="8.50" height="8.30" fill="#ffffff" stroke="#c4c4c4" stroke-width="1"/>
<text x="331.07" y="194.86" font-size="7.7" font-weight="bold" fill="#303030" text-anchor="middle">n</text>
<rect x="338.59" y="188.54" width="8.50" height="8.30" fill="#ffffff" stroke="#c4c4c4" stroke-width="1"/>
<text x="342.84" y="194.86" font-size="7.7" font-weight="bold" fill="#303030" text-anchor="middle">n</text>
<rect x="350.36" y="188.54" width="8.50" height="8.30" fill="#c8142a" stroke="#b01020" stroke-width="1"/>
<text x="354.61" y="194.86" font-size="7.7" font-weight="bold" fill="#8a0a18" text-anchor="middle">e</text>
<rect x="362.13" y="188.54" width="8.50" height="8.30" fill="#c8142a" stroke="#b01020" stroke-width="1"/>
<text x="366.38" y="194.86" font-size="7.7" font-weight="bold" fill="#8a0a18" text-anchor="middle">e</text>
<rect x="373.90" y="188.54" width="8.50" height="8.30" fill="#ffffff" stroke="#c4c4c4" stroke-width="1"/>
<text x="378.15" y="194.86" font-size="7.7" font-weight="bold" fill="#303030" text-anchor="middle">n</text>
<rect x="385.67" y="188.54" width="8.50" height="8.30" fill="#ffffff" stroke="#c4c4c4" stroke-width="1"/>
<text x="389.92" y="194.86" font-size="7.7" font-weight="bold" fill="#303030" text-anchor="middle">n</text>
<rect x="397.44" y="188.54" width="8.50" height="8.30" fill="#c8142a" stroke="#b01020" stroke-width="1"/>
<text x="401.69" y="194.86" font-size="7.7" font-weight="bold" fill="#8a0a18" text-anchor="middle">e</text>
<rect x="409.21" y="188.54" width="8.50" height="8.30" fill="#c8142a" stroke="#b01020" stroke-width="1"/>
<text x="413.46" y="194.86" font-size="7.7" font-weight="bold" fill="#8a0a18" text-anchor="middle">e</text>
<rect x="444.52" y="188.54" width="8.50" height="8.30" fill="#ffffff" stroke="#c4c4c4" stroke-width="1"/>
<text x="448.77" y="194.86" font-size="7.7" font-weight="bold" fill="#303030" text-anchor="middle">n</text>
<rect x="456.29" y="188.54" width="8.50" height="8.30" fill="#ffffff" stroke="#c4c4c4" stroke-width="1"/>
<text x="460.54" y="194.86" font-size="7.7" font-weight="bold" fill="#303030" text-anchor="middle">n</text>
<rect x="468.06" y="188.54" width="8.50" height="8.30" fill="#c8142a" stroke="#b01020" stroke-width="1"/>
<text x="472.31" y="194.86" font-size="7.7" font-weight="bold" fill="#8a0a18" text-anchor="middle">e</text>
<rect x="479.83" y="188.54" width="8.50" height="8.30" fill="#c8142a" stroke="#b01020" stroke-width="1"/>
<text x="484.08" y="194.86" font-size="7.7" font-weight="bold" fill="#8a0a18" text-anchor="middle">e</text>
<rect x="503.37" y="188.54" width="8.50" height="8.30" fill="#c8142a" stroke="#b01020" stroke-width="1"/>
<text x="507.62" y="194.86" font-size="7.7" font-weight="bold" fill="#8a0a18" text-anchor="middle">e</text>
<rect x="138.50" y="199.82" width="8.50" height="8.30" fill="#ffffff" stroke="#c4c4c4" stroke-width="1"/>
<path d="M141.75 203.97H143.75" stroke="#333333" stroke-width="1"/>
<rect x="150.27" y="199.82" width="8.50" height="8.30" fill="#ffffff" stroke="#c4c4c4" stroke-width="1"/>
<path d="M153.52 203.97H155.52" stroke="#333333" stroke-width="1"/>
<rect x="162.04" y="199.82" width="8.50" height="8.30" fill="#ffffff" stroke="#c4c4c4" stroke-width="1"/>
<path d="M165.29 203.97H167.29" stroke="#333333" stroke-width="1"/>
<rect x="173.81" y="199.82" width="8.50" height="8.30" fill="#ffffff" stroke="#c4c4c4" stroke-width="1"/>
<path d="M177.06 203.97H179.06" stroke="#333333" stroke-width="1"/>
<rect x="185.58" y="199.82" width="8.50" height="8.30" fill="#cdcfcf" stroke="#a9abab" stroke-width="1"/>
<path d="M188.03 203.97H191.63M189.83 202.17V205.77" stroke="#111111" stroke-width="1.2"/>
<rect x="197.35" y="199.82" width="8.50" height="8.30" fill="#cdcfcf" stroke="#a9abab" stroke-width="1"/>
<path d="M199.80 203.97H203.40M201.60 202.17V205.77" stroke="#111111" stroke-width="1.2"/>
<rect x="209.12" y="199.82" width="8.50" height="8.30" fill="#cdcfcf" stroke="#a9abab" stroke-width="1"/>
<path d="M211.57 203.97H215.17M213.37 202.17V205.77" stroke="#111111" stroke-width="1.2"/>
<rect x="220.89" y="199.82" width="8.50" height="8.30" fill="#cdcfcf" stroke="#a9abab" stroke-width="1"/>
<path d="M223.34 203.97H226.94M225.14 202.17V205.77" stroke="#111111" stroke-width="1.2"/>
<rect x="232.66" y="199.82" width="8.50" height="8.30" fill="#cdcfcf" stroke="#a9abab" stroke-width="1"/>
<path d="M235.11 203.97H238.71M236.91 202.17V205.77" stroke="#111111" stroke-width="1.2"/>
<rect x="244.43" y="199.82" width="8.50" height="8.30" fill="#cdcfcf" stroke="#a9abab" stroke-width="1"/>
<path d="M246.88 203.97H250.48M248.68 202.17V205.77" stroke="#111111" stroke-width="1.2"/>
<rect x="256.20" y="199.82" width="8.50" height="8.30" fill="#cdcfcf" stroke="#a9abab" stroke-width="1"/>
<path d="M258.65 203.97H262.25M260.45 202.17V205.77" stroke="#111111" stroke-width="1.2"/>
<rect x="267.97" y="199.82" width="8.50" height="8.30" fill="#cdcfcf" stroke="#a9abab" stroke-width="1"/>
<path d="M270.42 203.97H274.02M272.22 202.17V205.77" stroke="#111111" stroke-width="1.2"/>
<rect x="279.74" y="199.82" width="8.50" height="8.30" fill="#cdcfcf" stroke="#a9abab" stroke-width="1"/>
<path d="M282.19 203.97H285.79M283.99 202.17V205.77" stroke="#111111" stroke-width="1.2"/>
<rect x="291.51" y="199.82" width="8.50" height="8.30" fill="#cdcfcf" stroke="#a9abab" stroke-width="1"/>
<path d="M293.96 203.97H297.56M295.76 202.17V205.77" stroke="#111111" stroke-width="1.2"/>
<rect x="303.28" y="199.82" width="8.50" height="8.30" fill="#cdcfcf" stroke="#a9abab" stroke-width="1"/>
<path d="M305.73 203.97H309.33M307.53 202.17V205.77" stroke="#111111" stroke-width="1.2"/>
<rect x="315.05" y="199.82" width="8.50" height="8.30" fill="#cdcfcf" stroke="#a9abab" stroke-width="1"/>
<path d="M317.50 203.97H321.10M319.30 202.17V205.77" stroke="#111111" stroke-width="1.2"/>
<rect x="326.82" y="199.82" width="8.50" height="8.30" fill="#cdcfcf" stroke="#a9abab" stroke-width="1"/>
<path d="M329.27 203.97H332.87M331.07 202.17V205.77" stroke="#111111" stroke-width="1.2"/>
<rect x="338.59" y="199.82" width="8.50" height="8.30" fill="#ffffff" stroke="#c4c4c4" stroke-width="1"/>
<path d="M341.84 203.97H343.84" stroke="#333333" stroke-width="1"/>
<rect x="350.36" y="199.82" width="8.50" height="8.30" fill="#ffffff" stroke="#c4c4c4" stroke-width="1"/>
<path d="M353.61 203.97H355.61" stroke="#333333" stroke-width="1"/>
<rect x="362.13" y="199.82" width="8.50" height="8.30" fill="#ffffff" stroke="#c4c4c4" stroke-width="1"/>
<path d="M365.38 203.97H367.38" stroke="#333333" stroke-width="1"/>
<rect x="373.90" y="199.82" width="8.50" height="8.30" fill="#cdcfcf" stroke="#a9abab" stroke-width="1"/>
<path d="M376.35 203.97H379.95M378.15 202.17V205.77" stroke="#111111" stroke-width="1.2"/>
<rect x="385.67" y="199.82" width="8.50" height="8.30" fill="#cdcfcf" stroke="#a9abab" stroke-width="1"/>
<path d="M388.12 203.97H391.72M389.92 202.17V205.77" stroke="#111111" stroke-width="1.2"/>
<rect x="397.44" y="199.82" width="8.50" height="8.30" fill="#cdcfcf" stroke="#a9abab" stroke-width="1"/>
<path d="M399.89 203.97H403.49M401.69 202.17V205.77" stroke="#111111" stroke-width="1.2"/>
<rect x="409.21" y="199.82" width="8.50" height="8.30" fill="#cdcfcf" stroke="#a9abab" stroke-width="1"/>
<path d="M411.66 203.97H415.26M413.46 202.17V205.77" stroke="#111111" stroke-width="1.2"/>
<rect x="420.98" y="199.82" width="8.50" height="8.30" fill="#cdcfcf" stroke="#a9abab" stroke-width="1"/>
<path d="M423.43 203.97H427.03M425.23 202.17V205.77" stroke="#111111" stroke-width="1.2"/>
<rect x="432.75" y="199.82" width="8.50" height="8.30" fill="#cdcfcf" stroke="#a9abab" stroke-width="1"/>
<path d="M435.20 203.97H438.80M437.00 202.17V205.77" stroke="#111111" stroke-width="1.2"/>
<rect x="444.52" y="199.82" width="8.50" height="8.30" fill="#cdcfcf" stroke="#a9abab" stroke-width="1"/>
<path d="M446.97 203.97H450.57M448.77 202.17V205.77" stroke="#111111" stroke-width="1.2"/>
<rect x="456.29" y="199.82" width="8.50" height="8.30" fill="#cdcfcf" stroke="#a9abab" stroke-width="1"/>
<path d="M458.74 203.97H462.34M460.54 202.17V205.77" stroke="#111111" stroke-width="1.2"/>
<rect x="468.06" y="199.82" width="8.50" height="8.30" fill="#cdcfcf" stroke="#a9abab" stroke-width="1"/>
<path d="M470.51 203.97H474.11M472.31 202.17V205.77" stroke="#111111" stroke-width="1.2"/>
<rect x="479.83" y="199.82" width="8.50" height="8.30" fill="#cdcfcf" stroke="#a9abab" stroke-width="1"/>
<path d="M482.28 203.97H485.88M484.08 202.17V205.77" stroke="#111111" stroke-width="1.2"/>
<rect x="491.60" y="199.82" width="8.50" height="8.30" fill="#cdcfcf" stroke="#a9abab" stroke-width="1"/>
<path d="M494.05 203.97H497.65M495.85 202.17V205.77" stroke="#111111" stroke-width="1.2"/>
<rect x="503.37" y="199.82" width="8.50" height="8.30" fill="#cdcfcf" stroke="#a9abab" stroke-width="1"/>
<path d="M505.82 203.97H509.42M507.62 202.17V205.77" stroke="#111111" stroke-width="1.2"/>
<text x="91.70" y="153.60" font-size="5.6" font-weight="bold" font-style="normal" fill="#1a1a1a" text-anchor="start" >Fisher exact test</text>
<text transform="translate(3,162.00) scale(1.08,1)" font-size="7.7" font-weight="bold" fill="#1a1a1a">common type (yes/no)</text>
<text x="96.60" y="161.70" font-size="5.6" font-weight="bold" font-style="normal" fill="#1a1a1a" text-anchor="start" ><tspan font-style="italic">P</tspan>=.005</text>
<text transform="translate(3,172.95) scale(1.08,1)" font-size="7.7" font-weight="bold" fill="#1a1a1a">periv. pattern (yes/no)</text>
<text x="96.60" y="172.65" font-size="5.6" font-weight="bold" font-style="normal" fill="#1a1a1a" text-anchor="start" ><tspan font-style="italic">P</tspan>=.009</text>
<text transform="translate(3,183.90) scale(1.08,1)" font-size="7.7" font-weight="bold" fill="#1a1a1a">stage</text>
<text x="96.60" y="183.60" font-size="5.6" font-weight="bold" font-style="normal" fill="#1a1a1a" text-anchor="start" ><tspan font-style="italic">P</tspan>=.072</text>
<text transform="translate(3,194.85) scale(1.08,1)" font-size="7.7" font-weight="bold" fill="#1a1a1a">relapse (no/early/late)</text>
<text x="96.60" y="194.55" font-size="5.6" font-weight="bold" font-style="normal" fill="#1a1a1a" text-anchor="start" ><tspan font-style="italic">P</tspan>=.017</text>
<text transform="translate(3,205.80) scale(1.08,1)" font-size="7.7" font-weight="bold" fill="#1a1a1a">ALK</text>
<text x="96.60" y="205.50" font-size="5.6" font-weight="bold" font-style="normal" fill="#1a1a1a" text-anchor="start" ><tspan font-style="italic">P</tspan>&gt;.999</text>
<rect x="137" y="211.2" width="199.70" height="11.3" fill="#5a86d0"/>
<rect x="336.7" y="211.2" width="176.60" height="11.3" fill="#1f2580"/>
<text x="236.60" y="219.80" font-size="6.5" font-weight="bold" font-style="normal" fill="#12287a" text-anchor="middle" >C1</text>
<text x="424.90" y="219.80" font-size="6.5" font-weight="bold" font-style="normal" fill="#d0d0f4" text-anchor="middle" >C2</text>
<text x="3.00" y="247.00" font-size="11" font-weight="bold" font-style="normal" fill="#1a1a1a" text-anchor="start" >B</text>
<text x="306.30" y="246.40" font-size="8.55" font-weight="bold" font-style="normal" fill="#1a1a1a" text-anchor="start" >ALK+ ALCL</text>
<line x1="141.4" y1="239.8" x2="141.4" y2="359.5" stroke="#9a9a9a" stroke-width="1.2"/>
<line x1="139.40" y1="254.50" x2="141.40" y2="254.50" stroke="#9a9a9a" stroke-width="0.8"/>
<text x="138.80" y="256.10" font-size="3.0" font-weight="bold" font-style="normal" fill="#555" text-anchor="end" >1</text>
<line x1="139.40" y1="275.44" x2="141.40" y2="275.44" stroke="#9a9a9a" stroke-width="0.8"/>
<text x="138.80" y="277.04" font-size="3.0" font-weight="bold" font-style="normal" fill="#555" text-anchor="end" >0.8</text>
<line x1="139.40" y1="296.38" x2="141.40" y2="296.38" stroke="#9a9a9a" stroke-width="0.8"/>
<text x="138.80" y="297.98" font-size="3.0" font-weight="bold" font-style="normal" fill="#555" text-anchor="end" >0.6</text>
<line x1="139.40" y1="317.32" x2="141.40" y2="317.32" stroke="#9a9a9a" stroke-width="0.8"/>
<text x="138.80" y="318.92" font-size="3.0" font-weight="bold" font-style="normal" fill="#555" text-anchor="end" >0.4</text>
<line x1="139.40" y1="338.26" x2="141.40" y2="338.26" stroke="#9a9a9a" stroke-width="0.8"/>
<text x="138.80" y="339.86" font-size="3.0" font-weight="bold" font-style="normal" fill="#555" text-anchor="end" >0.2</text>
<line x1="139.40" y1="359.20" x2="141.40" y2="359.20" stroke="#9a9a9a" stroke-width="0.8"/>
<text x="138.80" y="360.80" font-size="3.0" font-weight="bold" font-style="normal" fill="#555" text-anchor="end" >0</text>
<text x="0.00" y="0.00" font-size="5.7" font-weight="bold" font-style="normal" fill="#1a1a1a" text-anchor="middle" transform="translate(134.3,312.5) rotate(-90)">1-Pearson</text>
<line x1="149.95" y1="335.75" x2="165.00" y2="335.75" stroke="#6a96cd" stroke-width="1.3"/>
<line x1="157.47" y1="330.50" x2="180.05" y2="330.50" stroke="#6a96cd" stroke-width="1.3"/>
<line x1="157.47" y1="330.50" x2="157.47" y2="335.75" stroke="#6a96cd" stroke-width="1.3"/>
<line x1="168.76" y1="329.25" x2="195.10" y2="329.25" stroke="#6a96cd" stroke-width="1.3"/>
<line x1="168.76" y1="329.25" x2="168.76" y2="330.50" stroke="#6a96cd" stroke-width="1.3"/>
<line x1="210.15" y1="330.75" x2="225.20" y2="330.75" stroke="#6a96cd" stroke-width="1.3"/>
<line x1="217.67" y1="328.00" x2="240.25" y2="328.00" stroke="#6a96cd" stroke-width="1.3"/>
<line x1="217.67" y1="328.00" x2="217.67" y2="330.75" stroke="#6a96cd" stroke-width="1.3"/>
<line x1="228.96" y1="324.50" x2="255.30" y2="324.50" stroke="#6a96cd" stroke-width="1.3"/>
<line x1="228.96" y1="324.50" x2="228.96" y2="328.00" stroke="#6a96cd" stroke-width="1.3"/>
<line x1="181.93" y1="305.60" x2="242.13" y2="305.60" stroke="#6a96cd" stroke-width="1.3"/>
<line x1="181.93" y1="305.60" x2="181.93" y2="329.25" stroke="#6a96cd" stroke-width="1.3"/>
<line x1="242.13" y1="305.60" x2="242.13" y2="324.50" stroke="#6a96cd" stroke-width="1.3"/>
<line x1="270.35" y1="322.00" x2="285.40" y2="322.00" stroke="#6a96cd" stroke-width="1.3"/>
<line x1="277.88" y1="317.00" x2="300.45" y2="317.00" stroke="#6a96cd" stroke-width="1.3"/>
<line x1="277.88" y1="317.00" x2="277.88" y2="322.00" stroke="#6a96cd" stroke-width="1.3"/>
<line x1="289.16" y1="312.50" x2="315.50" y2="312.50" stroke="#6a96cd" stroke-width="1.3"/>
<line x1="289.16" y1="312.50" x2="289.16" y2="317.00" stroke="#6a96cd" stroke-width="1.3"/>
<line x1="212.03" y1="302.50" x2="302.33" y2="302.50" stroke="#6a96cd" stroke-width="1.3"/>
<line x1="212.03" y1="302.50" x2="212.03" y2="305.60" stroke="#6a96cd" stroke-width="1.3"/>
<line x1="302.33" y1="302.50" x2="302.33" y2="312.50" stroke="#6a96cd" stroke-width="1.3"/>
<line x1="257.18" y1="293.75" x2="330.55" y2="293.75" stroke="#6a96cd" stroke-width="1.3"/>
<line x1="257.18" y1="293.75" x2="257.18" y2="302.50" stroke="#6a96cd" stroke-width="1.3"/>
<line x1="345.60" y1="334.50" x2="360.65" y2="334.50" stroke="#3a397e" stroke-width="1.3"/>
<line x1="375.70" y1="349.50" x2="390.75" y2="349.50" stroke="#3a397e" stroke-width="1.3"/>
<line x1="383.23" y1="333.25" x2="405.80" y2="333.25" stroke="#3a397e" stroke-width="1.3"/>
<line x1="383.23" y1="333.25" x2="383.23" y2="349.50" stroke="#3a397e" stroke-width="1.3"/>
<line x1="353.12" y1="323.00" x2="394.51" y2="323.00" stroke="#3a397e" stroke-width="1.3"/>
<line x1="353.12" y1="323.00" x2="353.12" y2="334.50" stroke="#3a397e" stroke-width="1.3"/>
<line x1="394.51" y1="323.00" x2="394.51" y2="333.25" stroke="#3a397e" stroke-width="1.3"/>
<line x1="435.90" y1="339.50" x2="450.95" y2="339.50" stroke="#3a397e" stroke-width="1.3"/>
<line x1="420.85" y1="325.00" x2="443.42" y2="325.00" stroke="#3a397e" stroke-width="1.3"/>
<line x1="443.42" y1="325.00" x2="443.42" y2="339.50" stroke="#3a397e" stroke-width="1.3"/>
<line x1="481.05" y1="341.80" x2="496.10" y2="341.80" stroke="#3a397e" stroke-width="1.3"/>
<line x1="466.00" y1="334.70" x2="488.58" y2="334.70" stroke="#3a397e" stroke-width="1.3"/>
<line x1="488.58" y1="334.70" x2="488.58" y2="341.80" stroke="#3a397e" stroke-width="1.3"/>
<line x1="477.29" y1="329.60" x2="511.15" y2="329.60" stroke="#3a397e" stroke-width="1.3"/>
<line x1="477.29" y1="329.60" x2="477.29" y2="334.70" stroke="#3a397e" stroke-width="1.3"/>
<line x1="432.14" y1="316.50" x2="494.22" y2="316.50" stroke="#3a397e" stroke-width="1.3"/>
<line x1="432.14" y1="316.50" x2="432.14" y2="325.00" stroke="#3a397e" stroke-width="1.3"/>
<line x1="494.22" y1="316.50" x2="494.22" y2="329.60" stroke="#3a397e" stroke-width="1.3"/>
<line x1="373.82" y1="297.40" x2="463.18" y2="297.40" stroke="#3a397e" stroke-width="1.3"/>
<line x1="373.82" y1="297.40" x2="373.82" y2="323.00" stroke="#3a397e" stroke-width="1.3"/>
<line x1="463.18" y1="297.40" x2="463.18" y2="316.50" stroke="#3a397e" stroke-width="1.3"/>
<line x1="293.87" y1="255.40" x2="418.50" y2="255.40" stroke="#262626" stroke-width="1.6"/>
<line x1="293.87" y1="255.40" x2="293.87" y2="293.75" stroke="#262626" stroke-width="1.6"/>
<line x1="418.50" y1="255.40" x2="418.50" y2="297.40" stroke="#262626" stroke-width="1.6"/>
<line x1="149.95" y1="335.75" x2="149.95" y2="359.20" stroke="#869fca" stroke-width="1.2" stroke-dasharray="4,2.6,1.4,2.9" stroke-dashoffset="3.2"/>
<line x1="165.00" y1="335.75" x2="165.00" y2="359.20" stroke="#869fca" stroke-width="1.2" stroke-dasharray="4,2.6,1.4,2.9" stroke-dashoffset="3.2"/>
<line x1="180.05" y1="330.50" x2="180.05" y2="359.20" stroke="#869fca" stroke-width="1.2" stroke-dasharray="4,2.6,1.4,2.9" stroke-dashoffset="3.2"/>
<line x1="195.10" y1="329.25" x2="195.10" y2="359.20" stroke="#869fca" stroke-width="1.2" stroke-dasharray="4,2.6,1.4,2.9" stroke-dashoffset="3.2"/>
<line x1="210.15" y1="330.75" x2="210.15" y2="359.20" stroke="#869fca" stroke-width="1.2" stroke-dasharray="4,2.6,1.4,2.9" stroke-dashoffset="3.2"/>
<line x1="225.20" y1="330.75" x2="225.20" y2="359.20" stroke="#869fca" stroke-width="1.2" stroke-dasharray="4,2.6,1.4,2.9" stroke-dashoffset="3.2"/>
<line x1="240.25" y1="328.00" x2="240.25" y2="359.20" stroke="#869fca" stroke-width="1.2" stroke-dasharray="4,2.6,1.4,2.9" stroke-dashoffset="3.2"/>
<line x1="255.30" y1="324.50" x2="255.30" y2="359.20" stroke="#869fca" stroke-width="1.2" stroke-dasharray="4,2.6,1.4,2.9" stroke-dashoffset="3.2"/>
<line x1="270.35" y1="322.00" x2="270.35" y2="359.20" stroke="#869fca" stroke-width="1.2" stroke-dasharray="4,2.6,1.4,2.9" stroke-dashoffset="3.2"/>
<line x1="285.40" y1="322.00" x2="285.40" y2="359.20" stroke="#869fca" stroke-width="1.2" stroke-dasharray="4,2.6,1.4,2.9" stroke-dashoffset="3.2"/>
<line x1="300.45" y1="317.00" x2="300.45" y2="359.20" stroke="#869fca" stroke-width="1.2" stroke-dasharray="4,2.6,1.4,2.9" stroke-dashoffset="3.2"/>
<line x1="315.50" y1="312.50" x2="315.50" y2="359.20" stroke="#869fca" stroke-width="1.2" stroke-dasharray="4,2.6,1.4,2.9" stroke-dashoffset="3.2"/>
<line x1="330.55" y1="293.75" x2="330.55" y2="359.20" stroke="#869fca" stroke-width="1.2" stroke-dasharray="4,2.6,1.4,2.9" stroke-dashoffset="3.2"/>
<line x1="345.60" y1="334.50" x2="345.60" y2="359.20" stroke="#2f2f66" stroke-width="1.2" stroke-dasharray="4,2.6,1.4,2.9" stroke-dashoffset="3.2"/>
<line x1="360.65" y1="334.50" x2="360.65" y2="359.20" stroke="#2f2f66" stroke-width="1.2" stroke-dasharray="4,2.6,1.4,2.9" stroke-dashoffset="3.2"/>
<line x1="375.70" y1="349.50" x2="375.70" y2="359.20" stroke="#2f2f66" stroke-width="1.2" stroke-dasharray="4,2.6,1.4,2.9" stroke-dashoffset="3.2"/>
<line x1="390.75" y1="349.50" x2="390.75" y2="359.20" stroke="#2f2f66" stroke-width="1.2" stroke-dasharray="4,2.6,1.4,2.9" stroke-dashoffset="3.2"/>
<line x1="405.80" y1="333.25" x2="405.80" y2="359.20" stroke="#2f2f66" stroke-width="1.2" stroke-dasharray="4,2.6,1.4,2.9" stroke-dashoffset="3.2"/>
<line x1="420.85" y1="325.00" x2="420.85" y2="359.20" stroke="#2f2f66" stroke-width="1.2" stroke-dasharray="4,2.6,1.4,2.9" stroke-dashoffset="3.2"/>
<line x1="435.90" y1="339.50" x2="435.90" y2="359.20" stroke="#2f2f66" stroke-width="1.2" stroke-dasharray="4,2.6,1.4,2.9" stroke-dashoffset="3.2"/>
<line x1="450.95" y1="339.50" x2="450.95" y2="359.20" stroke="#2f2f66" stroke-width="1.2" stroke-dasharray="4,2.6,1.4,2.9" stroke-dashoffset="3.2"/>
<line x1="466.00" y1="334.70" x2="466.00" y2="359.20" stroke="#2f2f66" stroke-width="1.2" stroke-dasharray="4,2.6,1.4,2.9" stroke-dashoffset="3.2"/>
<line x1="481.05" y1="341.80" x2="481.05" y2="359.20" stroke="#2f2f66" stroke-width="1.2" stroke-dasharray="4,2.6,1.4,2.9" stroke-dashoffset="3.2"/>
<line x1="496.10" y1="341.80" x2="496.10" y2="359.20" stroke="#2f2f66" stroke-width="1.2" stroke-dasharray="4,2.6,1.4,2.9" stroke-dashoffset="3.2"/>
<line x1="511.15" y1="329.60" x2="511.15" y2="359.20" stroke="#2f2f66" stroke-width="1.2" stroke-dasharray="4,2.6,1.4,2.9" stroke-dashoffset="3.2"/>
<circle cx="422.55" cy="365.6" r="1" fill="#111"/>
<circle cx="437.60" cy="365.6" r="1" fill="#111"/>
<circle cx="452.65" cy="365.6" r="1" fill="#111"/>
<circle cx="482.75" cy="365.6" r="1" fill="#111"/>
<text transform="translate(151.45,384.6) rotate(-90)" font-size="4.3" fill="#8fb0dd">ALCL 9</text>
<text transform="translate(166.50,384.6) rotate(-90)" font-size="4.3" fill="#8fb0dd">ALCL 19</text>
<text transform="translate(181.55,384.6) rotate(-90)" font-size="4.3" fill="#8fb0dd">ALCL 13</text>
<text transform="translate(196.60,384.6) rotate(-90)" font-size="4.3" fill="#8fb0dd">ALCL 15</text>
<text transform="translate(211.65,384.6) rotate(-90)" font-size="4.3" fill="#8fb0dd">ALCL 30</text>
<text transform="translate(226.70,384.6) rotate(-90)" font-size="4.3" fill="#8fb0dd">ALCL 32</text>
<text transform="translate(241.75,384.6) rotate(-90)" font-size="4.3" fill="#8fb0dd">ALCL 1</text>
<text transform="translate(256.80,384.6) rotate(-90)" font-size="4.3" fill="#8fb0dd">ALCL 6</text>
<text transform="translate(271.85,384.6) rotate(-90)" font-size="4.3" fill="#8fb0dd">ALCL 14</text>
<text transform="translate(286.90,384.6) rotate(-90)" font-size="4.3" fill="#8fb0dd">ALCL 20</text>
<text transform="translate(301.95,384.6) rotate(-90)" font-size="4.3" fill="#8fb0dd">ALCL 10</text>
<text transform="translate(317.00,384.6) rotate(-90)" font-size="4.3" fill="#8fb0dd">ALCL 11</text>
<text transform="translate(332.05,384.6) rotate(-90)" font-size="4.3" fill="#8fb0dd">ALCL 17</text>
<text transform="translate(347.10,384.6) rotate(-90)" font-size="4.3" fill="#8a8ab8">ALCL 9</text>
<text transform="translate(362.15,384.6) rotate(-90)" font-size="4.3" fill="#8a8ab8">ALCL 12</text>
<text transform="translate(377.20,384.6) rotate(-90)" font-size="4.3" fill="#8a8ab8">ALCL 21</text>
<text transform="translate(392.25,384.6) rotate(-90)" font-size="4.3" fill="#8a8ab8">ALCL 27</text>
<text transform="translate(407.30,384.6) rotate(-90)" font-size="4.3" fill="#8a8ab8">ALCL 24</text>
<text transform="translate(422.35,384.6) rotate(-90)" font-size="4.3" fill="#8a8ab8">ALCL 15</text>
<text transform="translate(437.40,384.6) rotate(-90)" font-size="4.3" fill="#8a8ab8">ALCL 16</text>
<text transform="translate(452.45,384.6) rotate(-90)" font-size="4.3" fill="#8a8ab8">ALCL 22</text>
<text transform="translate(467.50,384.6) rotate(-90)" font-size="4.3" fill="#8a8ab8">ALCL 23</text>
<text transform="translate(482.55,384.6) rotate(-90)" font-size="4.3" fill="#8a8ab8">ALCL 25</text>
<text transform="translate(497.60,384.6) rotate(-90)" font-size="4.3" fill="#8a8ab8">ALCL 26</text>
<text transform="translate(512.65,384.6) rotate(-90)" font-size="4.3" fill="#8a8ab8">ALCL 31</text>
<rect x="145.60" y="388.30" width="8.70" height="8.50" fill="#ffffff" stroke="#c4c4c4" stroke-width="1"/>
<text x="149.95" y="394.72" font-size="7.7" font-weight="bold" fill="#303030" text-anchor="middle">y</text>
<rect x="160.65" y="388.30" width="8.70" height="8.50" fill="#ffffff" stroke="#c4c4c4" stroke-width="1"/>
<text x="165.00" y="394.72" font-size="7.7" font-weight="bold" fill="#303030" text-anchor="middle">y</text>
<rect x="175.70" y="388.30" width="8.70" height="8.50" fill="#ffffff" stroke="#c4c4c4" stroke-width="1"/>
<text x="180.05" y="394.72" font-size="7.7" font-weight="bold" fill="#303030" text-anchor="middle">y</text>
<rect x="190.75" y="388.30" width="8.70" height="8.50" fill="#ffffff" stroke="#c4c4c4" stroke-width="1"/>
<text x="195.10" y="394.72" font-size="7.7" font-weight="bold" fill="#303030" text-anchor="middle">y</text>
<rect x="205.80" y="388.30" width="8.70" height="8.50" fill="#ffffff" stroke="#c4c4c4" stroke-width="1"/>
<text x="210.15" y="394.72" font-size="7.7" font-weight="bold" fill="#303030" text-anchor="middle">y</text>
<rect x="220.85" y="388.30" width="8.70" height="8.50" fill="#ffffff" stroke="#c4c4c4" stroke-width="1"/>
<text x="225.20" y="394.72" font-size="7.7" font-weight="bold" fill="#303030" text-anchor="middle">y</text>
<rect x="235.90" y="388.30" width="8.70" height="8.50" fill="#ffffff" stroke="#c4c4c4" stroke-width="1"/>
<text x="240.25" y="394.72" font-size="7.7" font-weight="bold" fill="#303030" text-anchor="middle">y</text>
<rect x="250.95" y="388.30" width="8.70" height="8.50" fill="#2b266c" stroke="#2b266c" stroke-width="1"/>
<text x="255.30" y="394.72" font-size="7.7" font-weight="bold" fill="#c0b8f0" text-anchor="middle">n</text>
<rect x="266.00" y="388.30" width="8.70" height="8.50" fill="#ffffff" stroke="#c4c4c4" stroke-width="1"/>
<text x="270.35" y="394.72" font-size="7.7" font-weight="bold" fill="#303030" text-anchor="middle">y</text>
<rect x="281.05" y="388.30" width="8.70" height="8.50" fill="#ffffff" stroke="#c4c4c4" stroke-width="1"/>
<text x="285.40" y="394.72" font-size="7.7" font-weight="bold" fill="#303030" text-anchor="middle">y</text>
<rect x="296.10" y="388.30" width="8.70" height="8.50" fill="#ffffff" stroke="#c4c4c4" stroke-width="1"/>
<text x="300.45" y="394.72" font-size="7.7" font-weight="bold" fill="#303030" text-anchor="middle">y</text>
<rect x="311.15" y="388.30" width="8.70" height="8.50" fill="#ffffff" stroke="#c4c4c4" stroke-width="1"/>
<text x="315.50" y="394.72" font-size="7.7" font-weight="bold" fill="#303030" text-anchor="middle">y</text>
<rect x="326.20" y="388.30" width="8.70" height="8.50" fill="#ffffff" stroke="#c4c4c4" stroke-width="1"/>
<text x="330.55" y="394.72" font-size="7.7" font-weight="bold" fill="#303030" text-anchor="middle">y</text>
<rect x="341.25" y="388.30" width="8.70" height="8.50" fill="#2b266c" stroke="#2b266c" stroke-width="1"/>
<text x="345.60" y="394.72" font-size="7.7" font-weight="bold" fill="#c0b8f0" text-anchor="middle">n</text>
<rect x="356.30" y="388.30" width="8.70" height="8.50" fill="#ffffff" stroke="#c4c4c4" stroke-width="1"/>
<text x="360.65" y="394.72" font-size="7.7" font-weight="bold" fill="#303030" text-anchor="middle">y</text>
<rect x="371.35" y="388.30" width="8.70" height="8.50" fill="#2b266c" stroke="#2b266c" stroke-width="1"/>
<text x="375.70" y="394.72" font-size="7.7" font-weight="bold" fill="#c0b8f0" text-anchor="middle">n</text>
<rect x="386.40" y="388.30" width="8.70" height="8.50" fill="#2b266c" stroke="#2b266c" stroke-width="1"/>
<text x="390.75" y="394.72" font-size="7.7" font-weight="bold" fill="#c0b8f0" text-anchor="middle">n</text>
<rect x="401.45" y="388.30" width="8.70" height="8.50" fill="#2b266c" stroke="#2b266c" stroke-width="1"/>
<text x="405.80" y="394.72" font-size="7.7" font-weight="bold" fill="#c0b8f0" text-anchor="middle">n</text>
<rect x="416.50" y="388.30" width="8.70" height="8.50" fill="#2b266c" stroke="#2b266c" stroke-width="1"/>
<text x="420.85" y="394.72" font-size="7.7" font-weight="bold" fill="#c0b8f0" text-anchor="middle">n</text>
<rect x="431.55" y="388.30" width="8.70" height="8.50" fill="#ffffff" stroke="#c4c4c4" stroke-width="1"/>
<text x="435.90" y="394.72" font-size="7.7" font-weight="bold" fill="#303030" text-anchor="middle">y</text>
<rect x="446.60" y="388.30" width="8.70" height="8.50" fill="#ffffff" stroke="#c4c4c4" stroke-width="1"/>
<text x="450.95" y="394.72" font-size="7.7" font-weight="bold" fill="#303030" text-anchor="middle">y</text>
<rect x="461.65" y="388.30" width="8.70" height="8.50" fill="#ffffff" stroke="#c4c4c4" stroke-width="1"/>
<text x="466.00" y="394.72" font-size="7.7" font-weight="bold" fill="#303030" text-anchor="middle">y</text>
<rect x="476.70" y="388.30" width="8.70" height="8.50" fill="#2b266c" stroke="#2b266c" stroke-width="1"/>
<text x="481.05" y="394.72" font-size="7.7" font-weight="bold" fill="#c0b8f0" text-anchor="middle">n</text>
<rect x="491.75" y="388.30" width="8.70" height="8.50" fill="#2b266c" stroke="#2b266c" stroke-width="1"/>
<text x="496.10" y="394.72" font-size="7.7" font-weight="bold" fill="#c0b8f0" text-anchor="middle">n</text>
<rect x="506.80" y="388.30" width="8.70" height="8.50" fill="#2b266c" stroke="#2b266c" stroke-width="1"/>
<text x="511.15" y="394.72" font-size="7.7" font-weight="bold" fill="#c0b8f0" text-anchor="middle">n</text>
<rect x="160.65" y="401.45" width="8.70" height="8.50" fill="#ffffff" stroke="#c4c4c4" stroke-width="1"/>
<text x="165.00" y="407.87" font-size="7.7" font-weight="bold" fill="#303030" text-anchor="middle">n</text>
<rect x="175.70" y="401.45" width="8.70" height="8.50" fill="#ffffff" stroke="#c4c4c4" stroke-width="1"/>
<text x="180.05" y="407.87" font-size="7.7" font-weight="bold" fill="#303030" text-anchor="middle">n</text>
<rect x="190.75" y="401.45" width="8.70" height="8.50" fill="#ffffff" stroke="#c4c4c4" stroke-width="1"/>
<text x="195.10" y="407.87" font-size="7.7" font-weight="bold" fill="#303030" text-anchor="middle">n</text>
<rect x="205.80" y="401.45" width="8.70" height="8.50" fill="#3c7430" stroke="#3c7430" stroke-width="1"/>
<text x="210.15" y="407.87" font-size="7.7" font-weight="bold" fill="#b0e08e" text-anchor="middle">y</text>
<rect x="220.85" y="401.45" width="8.70" height="8.50" fill="#ffffff" stroke="#c4c4c4" stroke-width="1"/>
<text x="225.20" y="407.87" font-size="7.7" font-weight="bold" fill="#303030" text-anchor="middle">n</text>
<rect x="235.90" y="401.45" width="8.70" height="8.50" fill="#ffffff" stroke="#c4c4c4" stroke-width="1"/>
<text x="240.25" y="407.87" font-size="7.7" font-weight="bold" fill="#303030" text-anchor="middle">n</text>
<rect x="250.95" y="401.45" width="8.70" height="8.50" fill="#ffffff" stroke="#c4c4c4" stroke-width="1"/>
<text x="255.30" y="407.87" font-size="7.7" font-weight="bold" fill="#303030" text-anchor="middle">n</text>
<rect x="266.00" y="401.45" width="8.70" height="8.50" fill="#ffffff" stroke="#c4c4c4" stroke-width="1"/>
<text x="270.35" y="407.87" font-size="7.7" font-weight="bold" fill="#303030" text-anchor="middle">n</text>
<rect x="281.05" y="401.45" width="8.70" height="8.50" fill="#ffffff" stroke="#c4c4c4" stroke-width="1"/>
<text x="285.40" y="407.87" font-size="7.7" font-weight="bold" fill="#303030" text-anchor="middle">n</text>
<rect x="296.10" y="401.45" width="8.70" height="8.50" fill="#ffffff" stroke="#c4c4c4" stroke-width="1"/>
<text x="300.45" y="407.87" font-size="7.7" font-weight="bold" fill="#303030" text-anchor="middle">n</text>
<rect x="311.15" y="401.45" width="8.70" height="8.50" fill="#ffffff" stroke="#c4c4c4" stroke-width="1"/>
<text x="315.50" y="407.87" font-size="7.7" font-weight="bold" fill="#303030" text-anchor="middle">n</text>
<rect x="326.20" y="401.45" width="8.70" height="8.50" fill="#ffffff" stroke="#c4c4c4" stroke-width="1"/>
<text x="330.55" y="407.87" font-size="7.7" font-weight="bold" fill="#303030" text-anchor="middle">n</text>
<rect x="341.25" y="401.45" width="8.70" height="8.50" fill="#3c7430" stroke="#3c7430" stroke-width="1"/>
<text x="345.60" y="407.87" font-size="7.7" font-weight="bold" fill="#b0e08e" text-anchor="middle">y</text>
<rect x="356.30" y="401.45" width="8.70" height="8.50" fill="#ffffff" stroke="#c4c4c4" stroke-width="1"/>
<text x="360.65" y="407.87" font-size="7.7" font-weight="bold" fill="#303030" text-anchor="middle">n</text>
<rect x="371.35" y="401.45" width="8.70" height="8.50" fill="#3c7430" stroke="#3c7430" stroke-width="1"/>
<text x="375.70" y="407.87" font-size="7.7" font-weight="bold" fill="#b0e08e" text-anchor="middle">y</text>
<rect x="386.40" y="401.45" width="8.70" height="8.50" fill="#3c7430" stroke="#3c7430" stroke-width="1"/>
<text x="390.75" y="407.87" font-size="7.7" font-weight="bold" fill="#b0e08e" text-anchor="middle">y</text>
<rect x="401.45" y="401.45" width="8.70" height="8.50" fill="#3c7430" stroke="#3c7430" stroke-width="1"/>
<text x="405.80" y="407.87" font-size="7.7" font-weight="bold" fill="#b0e08e" text-anchor="middle">y</text>
<rect x="416.50" y="401.45" width="8.70" height="8.50" fill="#ffffff" stroke="#c4c4c4" stroke-width="1"/>
<text x="420.85" y="407.87" font-size="7.7" font-weight="bold" fill="#303030" text-anchor="middle">n</text>
<rect x="431.55" y="401.45" width="8.70" height="8.50" fill="#ffffff" stroke="#c4c4c4" stroke-width="1"/>
<text x="435.90" y="407.87" font-size="7.7" font-weight="bold" fill="#303030" text-anchor="middle">n</text>
<rect x="446.60" y="401.45" width="8.70" height="8.50" fill="#ffffff" stroke="#c4c4c4" stroke-width="1"/>
<text x="450.95" y="407.87" font-size="7.7" font-weight="bold" fill="#303030" text-anchor="middle">n</text>
<rect x="461.65" y="401.45" width="8.70" height="8.50" fill="#3c7430" stroke="#3c7430" stroke-width="1"/>
<text x="466.00" y="407.87" font-size="7.7" font-weight="bold" fill="#b0e08e" text-anchor="middle">y</text>
<rect x="476.70" y="401.45" width="8.70" height="8.50" fill="#3c7430" stroke="#3c7430" stroke-width="1"/>
<text x="481.05" y="407.87" font-size="7.7" font-weight="bold" fill="#b0e08e" text-anchor="middle">y</text>
<rect x="491.75" y="401.45" width="8.70" height="8.50" fill="#3c7430" stroke="#3c7430" stroke-width="1"/>
<text x="496.10" y="407.87" font-size="7.7" font-weight="bold" fill="#b0e08e" text-anchor="middle">y</text>
<rect x="506.80" y="401.45" width="8.70" height="8.50" fill="#3c7430" stroke="#3c7430" stroke-width="1"/>
<text x="511.15" y="407.87" font-size="7.7" font-weight="bold" fill="#b0e08e" text-anchor="middle">y</text>
<rect x="145.60" y="414.60" width="8.70" height="8.50" fill="#e7a534" stroke="#d09020" stroke-width="1"/>
<text transform="translate(149.95,422.30) scale(0.8,1)" font-size="9.62" font-weight="bold" fill="#55300a" text-anchor="middle">III</text>
<rect x="160.65" y="414.60" width="8.70" height="8.50" fill="#e7a534" stroke="#d09020" stroke-width="1"/>
<text transform="translate(165.00,422.30) scale(0.8,1)" font-size="9.62" font-weight="bold" fill="#55300a" text-anchor="middle">III</text>
<rect x="175.70" y="414.60" width="8.70" height="8.50" fill="#fcfcf2" stroke="#d2d2c4" stroke-width="1"/>
<text transform="translate(180.05,422.30) scale(0.8,1)" font-size="9.62" font-weight="bold" fill="#4a4a40" text-anchor="middle">II</text>
<rect x="190.75" y="414.60" width="8.70" height="8.50" fill="#e7a534" stroke="#d09020" stroke-width="1"/>
<text transform="translate(195.10,422.30) scale(0.8,1)" font-size="9.62" font-weight="bold" fill="#55300a" text-anchor="middle">III</text>
<rect x="205.80" y="414.60" width="8.70" height="8.50" fill="#fcfcf2" stroke="#d2d2c4" stroke-width="1"/>
<text transform="translate(210.15,422.30) scale(0.8,1)" font-size="9.62" font-weight="bold" fill="#4a4a40" text-anchor="middle">I</text>
<rect x="220.85" y="414.60" width="8.70" height="8.50" fill="#e7a534" stroke="#d09020" stroke-width="1"/>
<text transform="translate(225.20,422.30) scale(0.8,1)" font-size="9.62" font-weight="bold" fill="#55300a" text-anchor="middle">IV</text>
<rect x="235.90" y="414.60" width="8.70" height="8.50" fill="#fcfcf2" stroke="#d2d2c4" stroke-width="1"/>
<text transform="translate(240.25,422.30) scale(0.8,1)" font-size="9.62" font-weight="bold" fill="#4a4a40" text-anchor="middle">I</text>
<rect x="250.95" y="414.60" width="8.70" height="8.50" fill="#fcfcf2" stroke="#d2d2c4" stroke-width="1"/>
<text transform="translate(255.30,422.30) scale(0.8,1)" font-size="9.62" font-weight="bold" fill="#4a4a40" text-anchor="middle">I</text>
<rect x="266.00" y="414.60" width="8.70" height="8.50" fill="#fcfcf2" stroke="#d2d2c4" stroke-width="1"/>
<text transform="translate(270.35,422.30) scale(0.8,1)" font-size="9.62" font-weight="bold" fill="#4a4a40" text-anchor="middle">I</text>
<rect x="281.05" y="414.60" width="8.70" height="8.50" fill="#fcfcf2" stroke="#d2d2c4" stroke-width="1"/>
<text transform="translate(285.40,422.30) scale(0.8,1)" font-size="9.62" font-weight="bold" fill="#4a4a40" text-anchor="middle">I</text>
<rect x="296.10" y="414.60" width="8.70" height="8.50" fill="#e7a534" stroke="#d09020" stroke-width="1"/>
<text transform="translate(300.45,422.30) scale(0.8,1)" font-size="9.62" font-weight="bold" fill="#55300a" text-anchor="middle">IV</text>
<rect x="311.15" y="414.60" width="8.70" height="8.50" fill="#fcfcf2" stroke="#d2d2c4" stroke-width="1"/>
<text transform="translate(315.50,422.30) scale(0.8,1)" font-size="9.62" font-weight="bold" fill="#4a4a40" text-anchor="middle">II</text>
<rect x="326.20" y="414.60" width="8.70" height="8.50" fill="#e7a534" stroke="#d09020" stroke-width="1"/>
<text transform="translate(330.55,422.30) scale(0.8,1)" font-size="9.62" font-weight="bold" fill="#55300a" text-anchor="middle">IV</text>
<rect x="341.25" y="414.60" width="8.70" height="8.50" fill="#e7a534" stroke="#d09020" stroke-width="1"/>
<text transform="translate(345.60,422.30) scale(0.8,1)" font-size="9.62" font-weight="bold" fill="#55300a" text-anchor="middle">III</text>
<rect x="356.30" y="414.60" width="8.70" height="8.50" fill="#e7a534" stroke="#d09020" stroke-width="1"/>
<text transform="translate(360.65,422.30) scale(0.8,1)" font-size="9.62" font-weight="bold" fill="#55300a" text-anchor="middle">IV</text>
<rect x="371.35" y="414.60" width="8.70" height="8.50" fill="#e7a534" stroke="#d09020" stroke-width="1"/>
<text transform="translate(375.70,422.30) scale(0.8,1)" font-size="9.62" font-weight="bold" fill="#55300a" text-anchor="middle">IV</text>
<rect x="386.40" y="414.60" width="8.70" height="8.50" fill="#e7a534" stroke="#d09020" stroke-width="1"/>
<text transform="translate(390.75,422.30) scale(0.8,1)" font-size="9.62" font-weight="bold" fill="#55300a" text-anchor="middle">IV</text>
<rect x="401.45" y="414.60" width="8.70" height="8.50" fill="#e7a534" stroke="#d09020" stroke-width="1"/>
<text transform="translate(405.80,422.30) scale(0.8,1)" font-size="9.62" font-weight="bold" fill="#55300a" text-anchor="middle">IV</text>
<rect x="416.50" y="414.60" width="8.70" height="8.50" fill="#e7a534" stroke="#d09020" stroke-width="1"/>
<text transform="translate(420.85,422.30) scale(0.8,1)" font-size="9.62" font-weight="bold" fill="#55300a" text-anchor="middle">IV</text>
<rect x="431.55" y="414.60" width="8.70" height="8.50" fill="#e7a534" stroke="#d09020" stroke-width="1"/>
<text transform="translate(435.90,422.30) scale(0.8,1)" font-size="9.62" font-weight="bold" fill="#55300a" text-anchor="middle">IV</text>
<rect x="446.60" y="414.60" width="8.70" height="8.50" fill="#e7a534" stroke="#d09020" stroke-width="1"/>
<text transform="translate(450.95,422.30) scale(0.8,1)" font-size="9.62" font-weight="bold" fill="#55300a" text-anchor="middle">III</text>
<rect x="461.65" y="414.60" width="8.70" height="8.50" fill="#e7a534" stroke="#d09020" stroke-width="1"/>
<text transform="translate(466.00,422.30) scale(0.8,1)" font-size="9.62" font-weight="bold" fill="#55300a" text-anchor="middle">III</text>
<rect x="491.75" y="414.60" width="8.70" height="8.50" fill="#e7a534" stroke="#d09020" stroke-width="1"/>
<text transform="translate(496.10,422.30) scale(0.8,1)" font-size="9.62" font-weight="bold" fill="#55300a" text-anchor="middle">III</text>
<rect x="506.80" y="414.60" width="8.70" height="8.50" fill="#e7a534" stroke="#d09020" stroke-width="1"/>
<text transform="translate(511.15,422.30) scale(0.8,1)" font-size="9.62" font-weight="bold" fill="#55300a" text-anchor="middle">IV</text>
<rect x="145.60" y="427.75" width="8.70" height="8.50" fill="#ffffff" stroke="#c4c4c4" stroke-width="1"/>
<text x="149.95" y="434.17" font-size="7.7" font-weight="bold" fill="#303030" text-anchor="middle">n</text>
<rect x="160.65" y="427.75" width="8.70" height="8.50" fill="#ffffff" stroke="#c4c4c4" stroke-width="1"/>
<text x="165.00" y="434.17" font-size="7.7" font-weight="bold" fill="#303030" text-anchor="middle">n</text>
<rect x="175.70" y="427.75" width="8.70" height="8.50" fill="#ffffff" stroke="#c4c4c4" stroke-width="1"/>
<text x="180.05" y="434.17" font-size="7.7" font-weight="bold" fill="#303030" text-anchor="middle">n</text>
<rect x="190.75" y="427.75" width="8.70" height="8.50" fill="#f6c9d8" stroke="#e0b0c0" stroke-width="1"/>
<text transform="translate(195.10,435.45) scale(0.8,1)" font-size="9.62" font-weight="bold" fill="#a03050" text-anchor="middle">I</text>
<rect x="205.80" y="427.75" width="8.70" height="8.50" fill="#f6c9d8" stroke="#e0b0c0" stroke-width="1"/>
<text transform="translate(210.15,435.45) scale(0.8,1)" font-size="9.62" font-weight="bold" fill="#a03050" text-anchor="middle">I</text>
<rect x="220.85" y="427.75" width="8.70" height="8.50" fill="#c8142a" stroke="#b01020" stroke-width="1"/>
<text x="225.20" y="434.17" font-size="7.7" font-weight="bold" fill="#8a0a18" text-anchor="middle">e</text>
<rect x="235.90" y="427.75" width="8.70" height="8.50" fill="#ffffff" stroke="#c4c4c4" stroke-width="1"/>
<text x="240.25" y="434.17" font-size="7.7" font-weight="bold" fill="#303030" text-anchor="middle">n</text>
<rect x="250.95" y="427.75" width="8.70" height="8.50" fill="#ffffff" stroke="#c4c4c4" stroke-width="1"/>
<text x="255.30" y="434.17" font-size="7.7" font-weight="bold" fill="#303030" text-anchor="middle">n</text>
<rect x="266.00" y="427.75" width="8.70" height="8.50" fill="#ffffff" stroke="#c4c4c4" stroke-width="1"/>
<text x="270.35" y="434.17" font-size="7.7" font-weight="bold" fill="#303030" text-anchor="middle">n</text>
<rect x="281.05" y="427.75" width="8.70" height="8.50" fill="#f6c9d8" stroke="#e0b0c0" stroke-width="1"/>
<text transform="translate(285.40,435.45) scale(0.8,1)" font-size="9.62" font-weight="bold" fill="#a03050" text-anchor="middle">I</text>
<rect x="296.10" y="427.75" width="8.70" height="8.50" fill="#ffffff" stroke="#c4c4c4" stroke-width="1"/>
<text x="300.45" y="434.17" font-size="7.7" font-weight="bold" fill="#303030" text-anchor="middle">n</text>
<rect x="311.15" y="427.75" width="8.70" height="8.50" fill="#ffffff" stroke="#c4c4c4" stroke-width="1"/>
<text x="315.50" y="434.17" font-size="7.7" font-weight="bold" fill="#303030" text-anchor="middle">n</text>
<rect x="326.20" y="427.75" width="8.70" height="8.50" fill="#ffffff" stroke="#c4c4c4" stroke-width="1"/>
<text x="330.55" y="434.17" font-size="7.7" font-weight="bold" fill="#303030" text-anchor="middle">n</text>
<rect x="341.25" y="427.75" width="8.70" height="8.50" fill="#ffffff" stroke="#c4c4c4" stroke-width="1"/>
<text x="345.60" y="434.17" font-size="7.7" font-weight="bold" fill="#303030" text-anchor="middle">n</text>
<rect x="356.30" y="427.75" width="8.70" height="8.50" fill="#ffffff" stroke="#c4c4c4" stroke-width="1"/>
<text x="360.65" y="434.17" font-size="7.7" font-weight="bold" fill="#303030" text-anchor="middle">n</text>
<rect x="371.35" y="427.75" width="8.70" height="8.50" fill="#c8142a" stroke="#b01020" stroke-width="1"/>
<text x="375.70" y="434.17" font-size="7.7" font-weight="bold" fill="#8a0a18" text-anchor="middle">e</text>
<rect x="401.45" y="427.75" width="8.70" height="8.50" fill="#c8142a" stroke="#b01020" stroke-width="1"/>
<text x="405.80" y="434.17" font-size="7.7" font-weight="bold" fill="#8a0a18" text-anchor="middle">e</text>
<rect x="431.55" y="427.75" width="8.70" height="8.50" fill="#ffffff" stroke="#c4c4c4" stroke-width="1"/>
<text x="435.90" y="434.17" font-size="7.7" font-weight="bold" fill="#303030" text-anchor="middle">n</text>
<rect x="446.60" y="427.75" width="8.70" height="8.50" fill="#ffffff" stroke="#c4c4c4" stroke-width="1"/>
<text x="450.95" y="434.17" font-size="7.7" font-weight="bold" fill="#303030" text-anchor="middle">n</text>
<rect x="461.65" y="427.75" width="8.70" height="8.50" fill="#c8142a" stroke="#b01020" stroke-width="1"/>
<text x="466.00" y="434.17" font-size="7.7" font-weight="bold" fill="#8a0a18" text-anchor="middle">e</text>
<rect x="491.75" y="427.75" width="8.70" height="8.50" fill="#c8142a" stroke="#b01020" stroke-width="1"/>
<text x="496.10" y="434.17" font-size="7.7" font-weight="bold" fill="#8a0a18" text-anchor="middle">e</text>
<rect x="506.80" y="427.75" width="8.70" height="8.50" fill="#c8142a" stroke="#b01020" stroke-width="1"/>
<text x="511.15" y="434.17" font-size="7.7" font-weight="bold" fill="#8a0a18" text-anchor="middle">e</text>
<text x="98.00" y="384.00" font-size="5.45" font-weight="bold" font-style="normal" fill="#1a1a1a" text-anchor="start" >Fisher exact test</text>
<text transform="translate(7.9,394.55) scale(1.08,1)" font-size="7.7" font-weight="bold" fill="#1a1a1a">common type (yes/no)</text>
<text x="99.80" y="393.95" font-size="5.6" font-weight="bold" font-style="normal" fill="#1a1a1a" text-anchor="start" ><tspan font-style="italic">P</tspan>=.004</text>
<text transform="translate(7.9,407.70) scale(1.08,1)" font-size="7.7" font-weight="bold" fill="#1a1a1a">periv. pattern (yes/no)</text>
<text x="99.80" y="407.10" font-size="5.6" font-weight="bold" font-style="normal" fill="#1a1a1a" text-anchor="start" ><tspan font-style="italic">P</tspan>=.009</text>
<text transform="translate(7.9,420.85) scale(1.08,1)" font-size="7.7" font-weight="bold" fill="#1a1a1a">stage</text>
<text x="99.80" y="420.25" font-size="5.6" font-weight="bold" font-style="normal" fill="#1a1a1a" text-anchor="start" ><tspan font-style="italic">P</tspan>=.006</text>
<text transform="translate(7.9,434.00) scale(1.08,1)" font-size="7.7" font-weight="bold" fill="#1a1a1a">relapse (no/early/late)</text>
<text x="99.80" y="433.40" font-size="5.6" font-weight="bold" font-style="normal" fill="#1a1a1a" text-anchor="start" ><tspan font-style="italic">P</tspan>=.028</text>
<rect x="142.8" y="441.6" width="196.10" height="10.1" fill="#5a86d0"/>
<rect x="338.9" y="441.6" width="179.00" height="10.1" fill="#1f2580"/>
<text x="240.30" y="449.40" font-size="6.5" font-weight="bold" font-style="normal" fill="#12287a" text-anchor="middle" >C1'</text>
<text x="427.80" y="449.40" font-size="6.5" font-weight="bold" font-style="normal" fill="#d0d0f4" text-anchor="middle" >C2'</text>
</svg>
</body></html>
